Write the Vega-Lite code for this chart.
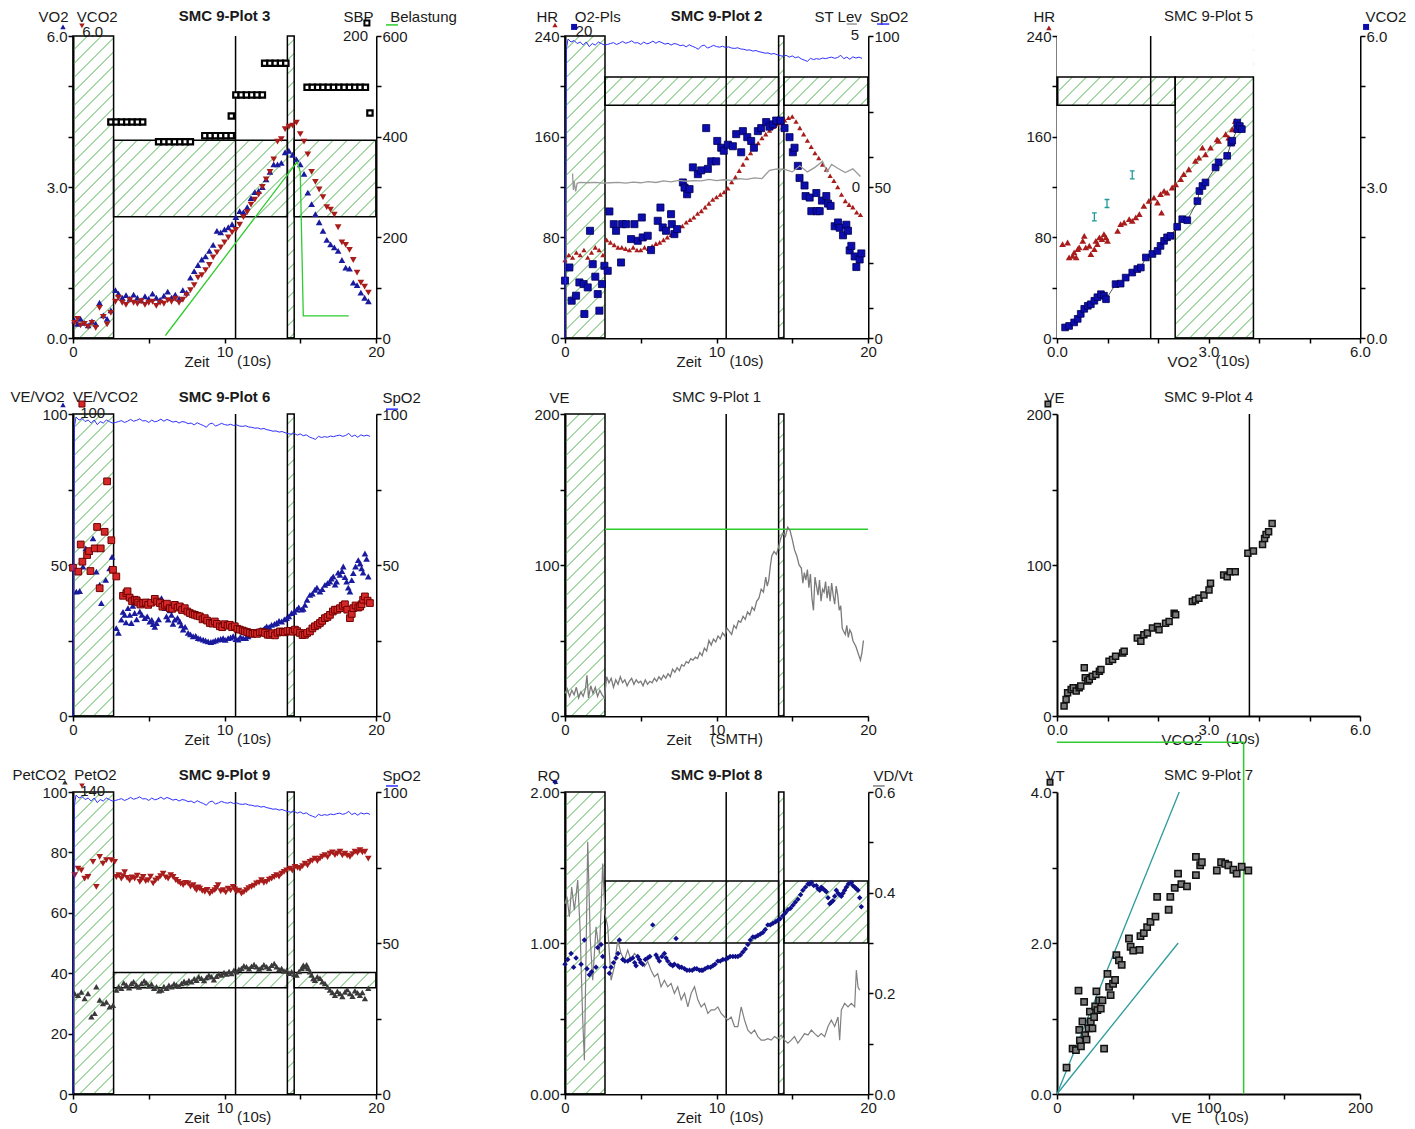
{
"$schema":"https://vega.github.io/schema/vega-lite/v6.json",
"background":"white",
"padding":{"left":10,"top":9,"right":0,"bottom":0},
"bounds":"flush",
"columns":3,
"spacing":{"row":76,"column":189},
"datasets":{
"spo2":[{"t":0,"s":0},{"t":0.1,"s":96},{"t":0.2,"s":99},{"t":0.4,"s":98},{"t":0.6,"s":98.5},{"t":0.8,"s":97.5},{"t":1.0,"s":98},{"t":1.2,"s":97},{"t":1.4,"s":98},{"t":1.6,"s":96.5},{"t":1.8,"s":97.5},{"t":2.0,"s":97},{"t":2.2,"s":98},{"t":2.4,"s":97.5},{"t":2.6,"s":97},{"t":2.8,"s":97.2},{"t":3.0,"s":97.5},{"t":3.2,"s":97.8},{"t":3.4,"s":97.2},{"t":3.6,"s":97.6},{"t":3.8,"s":98.2},{"t":4.0,"s":97.6},{"t":4.2,"s":97.9},{"t":4.4,"s":98.4},{"t":4.6,"s":97.7},{"t":4.8,"s":97.8},{"t":5.0,"s":97.2},{"t":5.2,"s":98.0},{"t":5.4,"s":97.4},{"t":5.6,"s":97.7},{"t":5.8,"s":98.3},{"t":6.0,"s":97.6},{"t":6.2,"s":98.2},{"t":6.4,"s":97.8},{"t":6.6,"s":97.3},{"t":6.8,"s":97.6},{"t":7.0,"s":97.0},{"t":7.2,"s":97.5},{"t":7.4,"s":97.3},{"t":7.6,"s":96.8},{"t":7.8,"s":97.0},{"t":8.0,"s":96.4},{"t":8.2,"s":97.1},{"t":8.4,"s":96.6},{"t":8.6,"s":96.2},{"t":8.8,"s":95.6},{"t":9.0,"s":96.7},{"t":9.2,"s":97.0},{"t":9.4,"s":96.0},{"t":9.6,"s":96.4},{"t":9.8,"s":96.9},{"t":10.0,"s":96.5},{"t":10.2,"s":96.3},{"t":10.4,"s":96.6},{"t":10.6,"s":96.2},{"t":10.8,"s":96.4},{"t":11.0,"s":96.0},{"t":11.2,"s":95.9},{"t":11.4,"s":96.1},{"t":11.6,"s":95.7},{"t":11.8,"s":95.6},{"t":12.0,"s":95.3},{"t":12.2,"s":95.4},{"t":12.4,"s":95.0},{"t":12.6,"s":95.2},{"t":12.8,"s":94.8},{"t":13.0,"s":94.6},{"t":13.2,"s":94.3},{"t":13.4,"s":94.4},{"t":13.6,"s":94.0},{"t":13.8,"s":94.2},{"t":14.0,"s":93.8},{"t":14.2,"s":93.5},{"t":14.4,"s":93.3},{"t":14.6,"s":93.6},{"t":14.8,"s":93.0},{"t":15.0,"s":93.4},{"t":15.2,"s":92.8},{"t":15.4,"s":93.1},{"t":15.6,"s":92.4},{"t":15.8,"s":92.0},{"t":16.0,"s":91.6},{"t":16.2,"s":92.6},{"t":16.4,"s":92.2},{"t":16.6,"s":92.5},{"t":16.8,"s":92.3},{"t":17.0,"s":92.7},{"t":17.2,"s":92.5},{"t":17.4,"s":92.8},{"t":17.6,"s":93.0},{"t":17.8,"s":92.6},{"t":18.0,"s":92.9},{"t":18.2,"s":93.6},{"t":18.4,"s":92.5},{"t":18.6,"s":93.0},{"t":18.8,"s":92.3},{"t":19.0,"s":93.1},{"t":19.2,"s":92.7},{"t":19.4,"s":93.0},{"t":19.6,"s":92.6}]
},
"concat":[
{"width":303,"height":302,"resolve":{"scale":{"y":"independent"}},
"layer":[
{"layer":[
{"data":{"values":[{}]},"mark":{"type":"point","shape":"M-151 -137L-137 -151M-151 -123L-123 -151M-151 -109L-109 -151M-151 -95L-95 -151M-151 -81L-81 -151M-151 -67L-67 -151M-151 -53L-53 -151M-151 -39L-39 -151M-151 -25L-25 -151M-151 -11L-11 -151M-151 3L3 -151M-151 17L17 -151M-151 31L31 -151M-151 45L45 -151M-151 59L59 -151M-151 73L73 -151M-151 87L87 -151M-151 101L101 -151M-151 115L115 -151M-151 129L129 -151M-151 143L143 -151M-145 151L151 -145M-131 151L151 -131M-117 151L151 -117M-103 151L151 -103M-89 151L151 -89M-75 151L151 -75M-61 151L151 -61M-47 151L151 -47M-33 151L151 -33M-19 151L151 -19M-5 151L151 -5M9 151L151 9M23 151L151 23M37 151L151 37M51 151L151 51M65 151L151 65M79 151L151 79M93 151L151 93M107 151L151 107M121 151L151 121M135 151L151 135M149 151L151 149","size":4,"filled":false,"color":"#4fb04f","strokeWidth":1,"opacity":1},
"encoding":{"x":{"datum":10,"type":"quantitative","scale":{"domain":[0,20],"nice":false,"zero":false},"axis":{"values":[0,5,10,15,20],"labelExpr":"datum.value % 10 == 0 ? datum.label : ''","title":"Zeit","titleAlign":"left","titleX":111,"titleY":28}},
"y":{"datum":3,"type":"quantitative","scale":{"domain":[0,6],"nice":false,"zero":false},"axis":{"values":[0,1,2,3,4,5,6],"format":".1f","labelExpr":"datum.value % 3 == 0 ? datum.label : ''","title":"VO2\u00a0\u00a0VCO2","titleAlign":"left","titleX":-35,"titleY":-15}}}},
{"data":{"values":[{"a":2.68,"b":14.15,"c":0,"d":2.41},{"a":2.68,"b":14.15,"c":3.93,"d":6},{"a":14.6,"b":20,"c":0,"d":2.41},{"a":14.6,"b":20,"c":3.93,"d":6}]},"mark":{"type":"rect","color":"white"},
"encoding":{"x":{"field":"a","type":"quantitative"},"x2":{"field":"b"},"y":{"field":"c","type":"quantitative"},"y2":{"field":"d"}}},
{"data":{"values":[{"a":0,"b":2.68,"c":0,"d":6},{"a":14.15,"b":14.6,"c":0,"d":6},{"a":2.68,"b":14.15,"c":2.41,"d":3.93},{"a":14.6,"b":20,"c":2.41,"d":3.93}]},"mark":{"type":"rect","filled":false,"color":"black","strokeWidth":1.5},
"encoding":{"x":{"field":"a","type":"quantitative"},"x2":{"field":"b"},"y":{"field":"c","type":"quantitative"},"y2":{"field":"d"}}},
{"data":{"values":[{}]},"mark":{"type":"rule","color":"black","strokeWidth":1.5},"encoding":{"x":{"datum":10.73,"type":"quantitative"}}},
{"data":{"values":[{"t":0.1,"v":0.35},{"t":0.3,"v":0.28},{"t":0.5,"v":0.38},{"t":0.75,"v":0.30},{"t":1.0,"v":0.25},{"t":1.25,"v":0.33},{"t":1.5,"v":0.28},{"t":1.75,"v":0.70},{"t":2.0,"v":0.45},{"t":2.25,"v":0.38},{"t":2.5,"v":0.55},{"t":2.8,"v":0.95},{"t":3.0,"v":0.88},{"t":3.25,"v":0.80},{"t":3.5,"v":0.85},{"t":3.75,"v":0.78},{"t":4.0,"v":0.86},{"t":4.25,"v":0.80},{"t":4.5,"v":0.75},{"t":4.75,"v":0.83},{"t":5.0,"v":0.78},{"t":5.25,"v":0.88},{"t":5.5,"v":0.80},{"t":5.75,"v":0.76},{"t":6.0,"v":0.84},{"t":6.25,"v":0.92},{"t":6.5,"v":0.80},{"t":6.75,"v":0.86},{"t":7.0,"v":0.78},{"t":7.25,"v":0.95},{"t":7.5,"v":0.90},{"t":7.75,"v":1.20},{"t":8.0,"v":1.33},{"t":8.25,"v":1.45},{"t":8.5,"v":1.56},{"t":8.75,"v":1.62},{"t":9.0,"v":1.73},{"t":9.25,"v":1.85},{"t":9.5,"v":2.13},{"t":9.75,"v":2.10},{"t":10.0,"v":2.16},{"t":10.25,"v":2.20},{"t":10.5,"v":2.26},{"t":10.75,"v":2.40},{"t":11.0,"v":2.52},{"t":11.25,"v":2.50},{"t":11.5,"v":2.60},{"t":11.75,"v":2.78},{"t":12.0,"v":2.90},{"t":12.25,"v":2.92},{"t":12.5,"v":3.00},{"t":12.75,"v":3.15},{"t":13.0,"v":3.30},{"t":13.25,"v":3.45},{"t":13.5,"v":3.45},{"t":13.75,"v":3.48},{"t":14.0,"v":3.69},{"t":14.25,"v":3.72},{"t":14.5,"v":3.64},{"t":14.75,"v":3.55},{"t":15.0,"v":3.45},{"t":15.25,"v":3.26},{"t":15.5,"v":2.89},{"t":15.75,"v":2.66},{"t":16.0,"v":2.46},{"t":16.25,"v":2.30},{"t":16.5,"v":2.13},{"t":16.75,"v":1.95},{"t":17.0,"v":1.86},{"t":17.25,"v":1.80},{"t":17.5,"v":1.73},{"t":17.75,"v":1.55},{"t":18.0,"v":1.40},{"t":18.25,"v":1.38},{"t":18.5,"v":1.10},{"t":18.75,"v":1.05},{"t":19.0,"v":0.90},{"t":19.25,"v":0.80},{"t":19.5,"v":0.73}]},
"mark":{"type":"point","shape":"triangle-up","filled":true,"color":"#1a1a9e","size":45,"opacity":1},"encoding":{"x":{"field":"t","type":"quantitative"},"y":{"field":"v","type":"quantitative"}}},
{"data":{"values":[{"t":0.1,"v":0.30},{"t":0.3,"v":0.38},{"t":0.5,"v":0.25},{"t":0.75,"v":0.28},{"t":1.0,"v":0.22},{"t":1.25,"v":0.30},{"t":1.5,"v":0.20},{"t":1.75,"v":0.60},{"t":2.0,"v":0.42},{"t":2.25,"v":0.27},{"t":2.5,"v":0.50},{"t":2.8,"v":0.72},{"t":3.0,"v":0.80},{"t":3.25,"v":0.70},{"t":3.5,"v":0.66},{"t":3.75,"v":0.75},{"t":4.0,"v":0.70},{"t":4.25,"v":0.68},{"t":4.5,"v":0.73},{"t":4.75,"v":0.66},{"t":5.0,"v":0.70},{"t":5.25,"v":0.72},{"t":5.5,"v":0.64},{"t":5.75,"v":0.70},{"t":6.0,"v":0.68},{"t":6.25,"v":0.75},{"t":6.5,"v":0.72},{"t":6.75,"v":0.78},{"t":7.0,"v":0.70},{"t":7.25,"v":0.76},{"t":7.5,"v":0.85},{"t":7.75,"v":0.95},{"t":8.0,"v":1.05},{"t":8.25,"v":1.20},{"t":8.5,"v":1.25},{"t":8.75,"v":1.35},{"t":9.0,"v":1.45},{"t":9.25,"v":1.60},{"t":9.5,"v":1.70},{"t":9.75,"v":1.80},{"t":10.0,"v":1.90},{"t":10.25,"v":2.00},{"t":10.5,"v":2.10},{"t":10.75,"v":2.15},{"t":11.0,"v":2.25},{"t":11.25,"v":2.40},{"t":11.5,"v":2.50},{"t":11.75,"v":2.65},{"t":12.0,"v":2.75},{"t":12.25,"v":2.85},{"t":12.5,"v":3.00},{"t":12.75,"v":3.15},{"t":13.0,"v":3.30},{"t":13.25,"v":3.55},{"t":13.5,"v":3.90},{"t":13.75,"v":3.95},{"t":14.0,"v":4.15},{"t":14.25,"v":4.20},{"t":14.5,"v":4.22},{"t":14.75,"v":4.28},{"t":15.0,"v":4.05},{"t":15.25,"v":3.90},{"t":15.5,"v":3.65},{"t":15.75,"v":3.30},{"t":16.0,"v":3.10},{"t":16.25,"v":2.95},{"t":16.5,"v":2.80},{"t":16.75,"v":2.60},{"t":17.0,"v":2.55},{"t":17.25,"v":2.45},{"t":17.5,"v":2.20},{"t":17.75,"v":1.90},{"t":18.0,"v":1.85},{"t":18.25,"v":1.75},{"t":18.5,"v":1.55},{"t":18.75,"v":1.30},{"t":19.0,"v":1.10},{"t":19.25,"v":1.02},{"t":19.5,"v":0.90}]},
"mark":{"type":"point","shape":"triangle-down","filled":true,"color":"#a81c1c","size":45,"opacity":1},"encoding":{"x":{"field":"t","type":"quantitative"},"y":{"field":"v","type":"quantitative"}}},
{"data":{"values":[{}]},"mark":{"type":"text","text":"SMC 9-Plot 3","fontWeight":"bold","baseline":"alphabetic","dy":-15},"encoding":{"x":{"datum":10,"type":"quantitative"},"y":{"datum":6,"type":"quantitative"}}},
{"data":{"values":[{}]},"mark":{"type":"text","text":"6.0","baseline":"alphabetic","dy":1},"encoding":{"x":{"datum":1.3,"type":"quantitative"},"y":{"datum":6,"type":"quantitative"}}},
{"data":{"values":[{}]},"mark":{"type":"text","text":"(10s)","align":"left","baseline":"alphabetic","dy":28},"encoding":{"x":{"datum":10.83,"type":"quantitative"},"y":{"datum":0,"type":"quantitative"}}},
{"data":{"values":[{}]},"mark":{"type":"point","shape":"triangle-up","filled":true,"color":"#1a1a9e","size":30,"opacity":1},"encoding":{"x":{"datum":-0.66,"type":"quantitative"},"y":{"datum":6.18,"type":"quantitative"}}},
{"data":{"values":[{}]},"mark":{"type":"point","shape":"triangle-down","filled":true,"color":"#a81c1c","size":30,"opacity":1},"encoding":{"x":{"datum":0.59,"type":"quantitative"},"y":{"datum":6.2,"type":"quantitative"}}},
{"data":{"values":[{}]},"mark":{"type":"point","shape":"square","filled":true,"color":"white","stroke":"black","strokeWidth":2,"size":25,"opacity":1},"encoding":{"x":{"datum":19.4,"type":"quantitative"},"y":{"datum":6.26,"type":"quantitative"}}},
{"data":{"values":[{}]},"mark":{"type":"rule","color":"#2ecc2e","strokeWidth":1.5},"encoding":{"x":{"datum":20.66,"type":"quantitative"},"x2":{"datum":21.45},"y":{"datum":6.22,"type":"quantitative"}}}
]},
{"layer":[
{"data":{"values":[{"t":6.1,"w":5},{"t":14.8,"w":350},{"t":15.0,"w":330},{"t":15.2,"w":44},{"t":18.2,"w":44}]},"mark":{"type":"line","color":"#2ecc2e","strokeWidth":1.3},
"encoding":{"x":{"field":"t","type":"quantitative"},"y":{"field":"w","type":"quantitative","scale":{"domain":[0,600],"nice":false,"zero":false},"axis":{"orient":"right","values":[0,100,200,300,400,500,600],"labelExpr":"datum.value % 200 == 0 ? datum.label : ''","title":"SBP\u00a0\u00a0\u00a0\u00a0Belastung","titleAlign":"left","titleX":-33,"titleY":-15}}}},
{"data":{"values":[{}]},"mark":{"type":"text","text":"200","align":"right","baseline":"alphabetic","dx":-8,"dy":5},"encoding":{"x":{"datum":20,"type":"quantitative"},"y":{"datum":600,"type":"quantitative"}}}
]},
{"layer":[
{"data":{"values":[{"t":2.5,"p":143},{"t":2.85,"p":143},{"t":3.2,"p":143},{"t":3.55,"p":143},{"t":3.9,"p":143},{"t":4.25,"p":143},{"t":4.6,"p":143},{"t":5.65,"p":130},{"t":6.0,"p":130},{"t":6.35,"p":130},{"t":6.7,"p":130},{"t":7.05,"p":130},{"t":7.4,"p":130},{"t":7.75,"p":130},{"t":8.7,"p":134},{"t":9.05,"p":134},{"t":9.4,"p":134},{"t":9.75,"p":134},{"t":10.1,"p":134},{"t":10.45,"p":134},{"t":10.45,"p":147},{"t":10.75,"p":161},{"t":11.1,"p":161},{"t":11.45,"p":161},{"t":11.8,"p":161},{"t":12.15,"p":161},{"t":12.5,"p":161},{"t":12.65,"p":182},{"t":13.0,"p":182},{"t":13.35,"p":182},{"t":13.7,"p":182},{"t":14.05,"p":182},{"t":15.45,"p":166},{"t":15.8,"p":166},{"t":16.15,"p":166},{"t":16.5,"p":166},{"t":16.85,"p":166},{"t":17.2,"p":166},{"t":17.55,"p":166},{"t":17.9,"p":166},{"t":18.25,"p":166},{"t":18.6,"p":166},{"t":18.95,"p":166},{"t":19.3,"p":166},{"t":19.6,"p":149}]},
"mark":{"type":"point","shape":"square","size":28,"filled":true,"color":"white","stroke":"black","strokeWidth":2.2,"opacity":1},
"encoding":{"x":{"field":"t","type":"quantitative"},"y":{"field":"p","type":"quantitative","scale":{"domain":[0,200],"nice":false,"zero":false},"axis":null}}}
]}
]},

{"width":303,"height":302,"resolve":{"scale":{"y":"independent"}},
"layer":[
{"layer":[
{"data":{"values":[{}]},"mark":{"type":"point","shape":"M-151 -137L-137 -151M-151 -123L-123 -151M-151 -109L-109 -151M-151 -95L-95 -151M-151 -81L-81 -151M-151 -67L-67 -151M-151 -53L-53 -151M-151 -39L-39 -151M-151 -25L-25 -151M-151 -11L-11 -151M-151 3L3 -151M-151 17L17 -151M-151 31L31 -151M-151 45L45 -151M-151 59L59 -151M-151 73L73 -151M-151 87L87 -151M-151 101L101 -151M-151 115L115 -151M-151 129L129 -151M-151 143L143 -151M-145 151L151 -145M-131 151L151 -131M-117 151L151 -117M-103 151L151 -103M-89 151L151 -89M-75 151L151 -75M-61 151L151 -61M-47 151L151 -47M-33 151L151 -33M-19 151L151 -19M-5 151L151 -5M9 151L151 9M23 151L151 23M37 151L151 37M51 151L151 51M65 151L151 65M79 151L151 79M93 151L151 93M107 151L151 107M121 151L151 121M135 151L151 135M149 151L151 149","size":4,"filled":false,"color":"#4fb04f","strokeWidth":1,"opacity":1},
"encoding":{"x":{"datum":10,"type":"quantitative","scale":{"domain":[0,20],"nice":false,"zero":false},"axis":{"values":[0,5,10,15,20],"labelExpr":"datum.value % 10 == 0 ? datum.label : ''","title":"Zeit","titleAlign":"left","titleX":111,"titleY":28}},
"y":{"datum":120,"type":"quantitative","scale":{"domain":[0,240],"nice":false,"zero":false},"axis":{"values":[0,40,80,120,160,200,240],"labelExpr":"datum.value % 80 == 0 ? datum.label : ''","title":"HR\u00a0\u00a0\u00a0\u00a0O2-Pls","titleAlign":"left","titleX":-29,"titleY":-15}}}},
{"data":{"values":[{"a":2.64,"b":14.1,"c":0,"d":184.9},{"a":2.64,"b":14.1,"c":207.4,"d":240},{"a":14.45,"b":20,"c":0,"d":184.9},{"a":14.45,"b":20,"c":207.4,"d":240}]},"mark":{"type":"rect","color":"white"},
"encoding":{"x":{"field":"a","type":"quantitative"},"x2":{"field":"b"},"y":{"field":"c","type":"quantitative"},"y2":{"field":"d"}}},
{"data":{"values":[{"a":0,"b":2.64,"c":0,"d":240},{"a":14.1,"b":14.45,"c":0,"d":240},{"a":2.64,"b":14.1,"c":184.9,"d":207.4},{"a":14.45,"b":20,"c":184.9,"d":207.4}]},"mark":{"type":"rect","filled":false,"color":"black","strokeWidth":1.5},
"encoding":{"x":{"field":"a","type":"quantitative"},"x2":{"field":"b"},"y":{"field":"c","type":"quantitative"},"y2":{"field":"d"}}},
{"data":{"values":[{}]},"mark":{"type":"rule","color":"black","strokeWidth":1.5},"encoding":{"x":{"datum":10.64,"type":"quantitative"}}},
{"data":{"values":[{"t":0.0,"h":62},{"t":0.25,"h":66},{"t":0.5,"h":64},{"t":0.75,"h":68},{"t":1.0,"h":66},{"t":1.25,"h":70},{"t":1.5,"h":64},{"t":1.75,"h":68},{"t":2.0,"h":72},{"t":2.25,"h":70},{"t":2.5,"h":66},{"t":2.75,"h":78},{"t":3.0,"h":76},{"t":3.25,"h":74},{"t":3.5,"h":72},{"t":3.75,"h":72},{"t":4.0,"h":71},{"t":4.25,"h":70},{"t":4.5,"h":72},{"t":4.75,"h":70},{"t":5.0,"h":70},{"t":5.25,"h":72},{"t":5.5,"h":71},{"t":5.75,"h":73},{"t":6.0,"h":75},{"t":6.25,"h":76},{"t":6.5,"h":78},{"t":6.75,"h":80},{"t":7.0,"h":82},{"t":7.25,"h":84},{"t":7.5,"h":86},{"t":7.75,"h":89},{"t":8.0,"h":92},{"t":8.25,"h":94},{"t":8.5,"h":96},{"t":8.75,"h":99},{"t":9.0,"h":101},{"t":9.25,"h":104},{"t":9.5,"h":107},{"t":9.75,"h":110},{"t":10.0,"h":112},{"t":10.25,"h":114},{"t":10.5,"h":116},{"t":10.75,"h":119},{"t":11.0,"h":124},{"t":11.25,"h":128},{"t":11.5,"h":133},{"t":11.75,"h":138},{"t":12.0,"h":143},{"t":12.25,"h":147},{"t":12.5,"h":151},{"t":12.75,"h":155},{"t":13.0,"h":159},{"t":13.25,"h":162},{"t":13.5,"h":165},{"t":13.75,"h":168},{"t":14.0,"h":170},{"t":14.25,"h":171},{"t":14.5,"h":173},{"t":14.75,"h":175},{"t":15.0,"h":176},{"t":15.25,"h":172},{"t":15.5,"h":167},{"t":15.75,"h":162},{"t":16.0,"h":157},{"t":16.25,"h":152},{"t":16.5,"h":147},{"t":16.75,"h":143},{"t":17.0,"h":138},{"t":17.25,"h":134},{"t":17.5,"h":129},{"t":17.75,"h":125},{"t":18.0,"h":120},{"t":18.25,"h":114},{"t":18.5,"h":109},{"t":18.75,"h":106},{"t":19.0,"h":104},{"t":19.25,"h":100},{"t":19.5,"h":98}]},
"mark":{"type":"point","shape":"triangle-up","filled":true,"color":"#a81c1c","size":28,"opacity":1},"encoding":{"x":{"field":"t","type":"quantitative"},"y":{"field":"h","type":"quantitative"}}},
{"data":{"values":[{}]},"mark":{"type":"text","text":"SMC 9-Plot 2","fontWeight":"bold","baseline":"alphabetic","dy":-15},"encoding":{"x":{"datum":10,"type":"quantitative"},"y":{"datum":240,"type":"quantitative"}}},
{"data":{"values":[{}]},"mark":{"type":"text","text":"20","baseline":"alphabetic","dy":0},"encoding":{"x":{"datum":1.25,"type":"quantitative"},"y":{"datum":240,"type":"quantitative"}}},
{"data":{"values":[{}]},"mark":{"type":"text","text":"5","align":"right","baseline":"alphabetic","dx":-9,"dy":4},"encoding":{"x":{"datum":20,"type":"quantitative"},"y":{"datum":240,"type":"quantitative"}}},
{"data":{"values":[{}]},"mark":{"type":"text","text":"0","align":"right","baseline":"middle","dx":-8},"encoding":{"x":{"datum":20,"type":"quantitative"},"y":{"datum":120,"type":"quantitative"}}},
{"data":{"values":[{}]},"mark":{"type":"text","text":"(10s)","align":"left","baseline":"alphabetic","dy":28},"encoding":{"x":{"datum":10.85,"type":"quantitative"},"y":{"datum":0,"type":"quantitative"}}},
{"data":{"values":[{}]},"mark":{"type":"point","shape":"triangle-up","filled":true,"color":"#a81c1c","size":28,"opacity":1},"encoding":{"x":{"datum":-0.66,"type":"quantitative"},"y":{"datum":248.7,"type":"quantitative"}}},
{"data":{"values":[{}]},"mark":{"type":"point","shape":"square","filled":true,"color":"#0d0dae","size":36,"opacity":1},"encoding":{"x":{"datum":0.6,"type":"quantitative"},"y":{"datum":247.2,"type":"quantitative"}}},
{"data":{"values":[{}]},"mark":{"type":"rule","color":"#999999","strokeWidth":1.5},"encoding":{"x":{"datum":18.6,"type":"quantitative"},"x2":{"datum":19.27},"y":{"datum":249.5,"type":"quantitative"}}},
{"data":{"values":[{}]},"mark":{"type":"rule","color":"#2f2fff","strokeWidth":1.5},"encoding":{"x":{"datum":20.6,"type":"quantitative"},"x2":{"datum":21.4},"y":{"datum":249.5,"type":"quantitative"}}}
]},
{"layer":[
{"data":{"values":[{"t":0.0,"o":3.8},{"t":0.29,"o":4.67},{"t":0.44,"o":2.47},{"t":0.73,"o":2.8},{"t":0.95,"o":3.68},{"t":1.23,"o":3.57},{"t":1.28,"o":1.59},{"t":1.5,"o":3.35},{"t":1.65,"o":7.1},{"t":1.83,"o":4.89},{"t":2.0,"o":4.06},{"t":2.16,"o":2.91},{"t":2.27,"o":1.81},{"t":2.44,"o":3.57},{"t":2.6,"o":4.78},{"t":2.82,"o":4.45},{"t":2.93,"o":8.38},{"t":3.22,"o":7.54},{"t":3.37,"o":7.1},{"t":3.7,"o":5.0},{"t":3.77,"o":7.54},{"t":4.03,"o":7.54},{"t":4.36,"o":6.55},{"t":4.58,"o":7.54},{"t":4.8,"o":6.44},{"t":5.07,"o":7.98},{"t":5.13,"o":6.66},{"t":5.46,"o":6.77},{"t":5.68,"o":5.82},{"t":6.12,"o":7.76},{"t":6.3,"o":8.64},{"t":6.45,"o":7.32},{"t":6.67,"o":7.1},{"t":7.0,"o":8.2},{"t":7.05,"o":7.54},{"t":7.22,"o":6.88},{"t":7.4,"o":7.21},{"t":7.78,"o":10.3},{"t":7.89,"o":9.96},{"t":8.06,"o":9.52},{"t":8.22,"o":9.86},{"t":8.44,"o":11.3},{"t":8.77,"o":10.85},{"t":8.99,"o":11.1},{"t":9.32,"o":13.9},{"t":9.43,"o":11.2},{"t":9.65,"o":11.7},{"t":9.98,"o":11.7},{"t":10.05,"o":13.05},{"t":10.31,"o":12.6},{"t":10.48,"o":12.4},{"t":10.75,"o":12.8},{"t":11.08,"o":12.7},{"t":11.3,"o":13.5},{"t":11.63,"o":12.3},{"t":11.74,"o":13.7},{"t":12.03,"o":13.3},{"t":12.29,"o":13.05},{"t":12.47,"o":12.6},{"t":12.73,"o":13.7},{"t":12.95,"o":13.9},{"t":13.28,"o":14.3},{"t":13.5,"o":14.0},{"t":13.72,"o":14.15},{"t":13.94,"o":14.4},{"t":14.23,"o":14.4},{"t":14.49,"o":13.9},{"t":14.82,"o":13.3},{"t":15.04,"o":12.3},{"t":15.15,"o":12.6},{"t":15.37,"o":11.4},{"t":15.48,"o":10.6},{"t":15.81,"o":10.1},{"t":15.88,"o":9.4},{"t":16.15,"o":9.3},{"t":16.26,"o":8.4},{"t":16.59,"o":9.6},{"t":16.62,"o":8.4},{"t":16.81,"o":8.4},{"t":16.96,"o":9.1},{"t":17.25,"o":9.4},{"t":17.36,"o":8.9},{"t":17.53,"o":8.75},{"t":17.8,"o":7.4},{"t":18.02,"o":7.65},{"t":18.13,"o":7.3},{"t":18.35,"o":6.8},{"t":18.57,"o":7.5},{"t":18.68,"o":7.1},{"t":18.79,"o":5.8},{"t":18.9,"o":6.1},{"t":19.12,"o":5.4},{"t":19.23,"o":4.7},{"t":19.45,"o":5.2},{"t":19.56,"o":5.6}]},
"mark":{"type":"point","shape":"square","filled":true,"color":"#0d0dae","stroke":"#000050","strokeWidth":0.8,"size":50,"opacity":1},
"encoding":{"x":{"field":"t","type":"quantitative"},"y":{"field":"o","type":"quantitative","scale":{"domain":[0,20],"nice":false,"zero":false},"axis":null}}}
]},
{"layer":[
{"data":{"name":"spo2"},"mark":{"type":"line","color":"#2f2fff","strokeWidth":1},
"encoding":{"x":{"field":"t","type":"quantitative"},"y":{"field":"s","type":"quantitative","scale":{"domain":[0,100],"nice":false,"zero":false},"axis":{"orient":"right","values":[0,10,25,50,60,75,100],"labelExpr":"datum.value % 50 == 0 ? datum.label : ''","title":"ST Lev\u00a0\u00a0SpO2","titleAlign":"left","titleX":-54,"titleY":-15}}}}
]},
{"layer":[
{"data":{"values":[{"t":0.5,"s":0.45},{"t":0.55,"s":-0.1},{"t":0.6,"s":0.2},{"t":0.7,"s":-0.15},{"t":0.8,"s":0.12},{"t":1.0,"s":0.15},{"t":1.5,"s":0.14},{"t":2.0,"s":0.15},{"t":2.5,"s":0.13},{"t":3.0,"s":0.14},{"t":3.5,"s":0.15},{"t":4.0,"s":0.13},{"t":4.5,"s":0.16},{"t":5.0,"s":0.14},{"t":5.5,"s":0.18},{"t":6.0,"s":0.15},{"t":6.5,"s":0.2},{"t":7.0,"s":0.17},{"t":7.5,"s":0.22},{"t":8.0,"s":0.19},{"t":8.5,"s":0.21},{"t":9.0,"s":0.2},{"t":9.5,"s":0.25},{"t":10.0,"s":0.21},{"t":10.5,"s":0.24},{"t":11.0,"s":0.22},{"t":11.5,"s":0.28},{"t":12.0,"s":0.25},{"t":12.5,"s":0.3},{"t":13.0,"s":0.28},{"t":13.5,"s":0.55},{"t":14.0,"s":0.6},{"t":14.5,"s":0.58},{"t":15.0,"s":0.5},{"t":15.5,"s":0.7},{"t":16.0,"s":0.5},{"t":16.5,"s":0.65},{"t":17.0,"s":0.85},{"t":17.3,"s":0.5},{"t":17.6,"s":0.75},{"t":18.0,"s":0.62},{"t":18.5,"s":0.48},{"t":19.0,"s":0.6},{"t":19.5,"s":0.35}]},
"mark":{"type":"line","color":"#999999","strokeWidth":1.3},
"encoding":{"x":{"field":"t","type":"quantitative"},"y":{"field":"s","type":"quantitative","scale":{"domain":[-5,5],"nice":false,"zero":false},"axis":null}}}
]}
]},

{"width":303,"height":302,"resolve":{"scale":{"y":"independent"}},
"layer":[
{"layer":[
{"data":{"values":[{}]},"mark":{"type":"point","shape":"M-151 -137L-137 -151M-151 -123L-123 -151M-151 -109L-109 -151M-151 -95L-95 -151M-151 -81L-81 -151M-151 -67L-67 -151M-151 -53L-53 -151M-151 -39L-39 -151M-151 -25L-25 -151M-151 -11L-11 -151M-151 3L3 -151M-151 17L17 -151M-151 31L31 -151M-151 45L45 -151M-151 59L59 -151M-151 73L73 -151M-151 87L87 -151M-151 101L101 -151M-151 115L115 -151M-151 129L129 -151M-151 143L143 -151M-145 151L151 -145M-131 151L151 -131M-117 151L151 -117M-103 151L151 -103M-89 151L151 -89M-75 151L151 -75M-61 151L151 -61M-47 151L151 -47M-33 151L151 -33M-19 151L151 -19M-5 151L151 -5M9 151L151 9M23 151L151 23M37 151L151 37M51 151L151 51M65 151L151 65M79 151L151 79M93 151L151 93M107 151L151 107M121 151L151 121M135 151L151 135M149 151L151 149","size":4,"filled":false,"color":"#4fb04f","strokeWidth":1,"opacity":1},
"encoding":{"x":{"datum":3,"type":"quantitative","scale":{"domain":[0,6],"nice":false,"zero":false},"axis":{"values":[0,1,2,3,4,5,6],"format":".1f","labelExpr":"datum.value % 3 == 0 ? datum.label : ''","title":"VO2","titleAlign":"left","titleX":110,"titleY":28}},
"y":{"datum":120,"type":"quantitative","scale":{"domain":[0,240],"nice":false,"zero":false},"axis":{"values":[0,40,80,120,160,200,240],"labelExpr":"datum.value % 80 == 0 ? datum.label : ''","title":"HR","titleAlign":"left","titleX":-24,"titleY":-15}}}},
{"data":{"values":[{"a":0,"b":2.34,"c":0,"d":184.9},{"a":0,"b":3.89,"c":207.4,"d":240},{"a":3.89,"b":6,"c":0,"d":240}]},"mark":{"type":"rect","color":"white"},
"encoding":{"x":{"field":"a","type":"quantitative"},"x2":{"field":"b"},"y":{"field":"c","type":"quantitative"},"y2":{"field":"d"}}},
{"data":{"values":[{"a":0,"b":2.34,"c":184.9,"d":207.4},{"a":2.34,"b":3.89,"c":0,"d":207.4}]},"mark":{"type":"rect","filled":false,"color":"black","strokeWidth":1.5},
"encoding":{"x":{"field":"a","type":"quantitative"},"x2":{"field":"b"},"y":{"field":"c","type":"quantitative"},"y2":{"field":"d"}}},
{"data":{"values":[{}]},"mark":{"type":"rule","color":"black","strokeWidth":1.5},"encoding":{"x":{"datum":1.855,"type":"quantitative"}}},
{"data":{"values":[{"x":0.11,"y":74.6},{"x":0.21,"y":75.9},{"x":0.24,"y":64.0},{"x":0.31,"y":65.3},{"x":0.34,"y":68.0},{"x":0.38,"y":64.0},{"x":0.41,"y":70.6},{"x":0.44,"y":72.0},{"x":0.51,"y":77.2},{"x":0.54,"y":81.2},{"x":0.57,"y":72.0},{"x":0.64,"y":73.3},{"x":0.67,"y":66.7},{"x":0.74,"y":70.6},{"x":0.77,"y":77.2},{"x":0.80,"y":74.6},{"x":0.84,"y":79.9},{"x":0.89,"y":78.6},{"x":0.93,"y":82.5},{"x":0.97,"y":79.9},{"x":1.00,"y":77.2},{"x":1.20,"y":85.2},{"x":1.26,"y":90.5},{"x":1.33,"y":91.8},{"x":1.43,"y":94.4},{"x":1.49,"y":93.1},{"x":1.56,"y":95.8},{"x":1.63,"y":98.4},{"x":1.72,"y":105.0},{"x":1.82,"y":109.0},{"x":1.92,"y":111.6},{"x":1.99,"y":107.7},{"x":2.05,"y":114.3},{"x":2.07,"y":99.7},{"x":2.12,"y":116.9},{"x":2.18,"y":115.6},{"x":2.28,"y":119.6},{"x":2.35,"y":122.2},{"x":2.45,"y":126.2},{"x":2.51,"y":130.2},{"x":2.61,"y":134.1},{"x":2.74,"y":140.7},{"x":2.81,"y":143.4},{"x":2.88,"y":151.3},{"x":2.94,"y":146.0},{"x":3.04,"y":151.3},{"x":3.17,"y":157.9},{"x":3.20,"y":156.6},{"x":3.34,"y":161.9},{"x":3.40,"y":159.3},{"x":3.47,"y":165.9},{"x":3.53,"y":172.5},{"x":3.60,"y":169.8},{"x":3.63,"y":167.2}]},
"mark":{"type":"point","shape":"triangle-up","filled":true,"color":"#a81c1c","size":45,"opacity":1},"encoding":{"x":{"field":"x","type":"quantitative"},"y":{"field":"y","type":"quantitative"}}},
{"data":{"values":[{"x":0.74,"y":96.3},{"x":0.99,"y":106.9},{"x":1.49,"y":129.6}]},"mark":{"type":"point","shape":"M-0.6 -1L0.6 -1M0 -1L0 1M-0.6 1L0.6 1","size":64,"filled":false,"color":"#1f9a9a","strokeWidth":1.3,"opacity":1},"encoding":{"x":{"field":"x","type":"quantitative"},"y":{"field":"y","type":"quantitative"}}},
{"data":{"values":[{}]},"mark":{"type":"text","text":"SMC 9-Plot 5","baseline":"alphabetic","dy":-15},"encoding":{"x":{"datum":3,"type":"quantitative"},"y":{"datum":240,"type":"quantitative"}}},
{"data":{"values":[{}]},"mark":{"type":"text","text":"(10s)","align":"left","baseline":"alphabetic","dy":28},"encoding":{"x":{"datum":3.14,"type":"quantitative"},"y":{"datum":0,"type":"quantitative"}}},
{"data":{"values":[{}]},"mark":{"type":"point","shape":"triangle-up","filled":true,"color":"#a81c1c","size":30,"opacity":1},"encoding":{"x":{"datum":-0.16,"type":"quantitative"},"y":{"datum":246.4,"type":"quantitative"}}},
{"data":{"values":[{}]},"mark":{"type":"point","shape":"square","filled":true,"color":"#0d0dae","size":36,"opacity":1},"encoding":{"x":{"datum":6.12,"type":"quantitative"},"y":{"datum":247.2,"type":"quantitative"}}}
]},
{"data":{"values":[{"x":0.16,"y":0.21},{"x":0.24,"y":0.24},{"x":0.34,"y":0.31},{"x":0.41,"y":0.38},{"x":0.47,"y":0.48},{"x":0.54,"y":0.58},{"x":0.61,"y":0.64},{"x":0.67,"y":0.67},{"x":0.74,"y":0.74},{"x":0.80,"y":0.81},{"x":0.87,"y":0.87},{"x":0.93,"y":0.84},{"x":0.97,"y":0.77},{"x":1.16,"y":1.07},{"x":1.26,"y":1.08},{"x":1.36,"y":1.20},{"x":1.49,"y":1.30},{"x":1.59,"y":1.37},{"x":1.66,"y":1.40},{"x":1.76,"y":1.60},{"x":1.89,"y":1.67},{"x":1.99,"y":1.73},{"x":2.05,"y":1.83},{"x":2.12,"y":1.93},{"x":2.18,"y":2.00},{"x":2.25,"y":2.03},{"x":2.38,"y":2.21},{"x":2.48,"y":2.36},{"x":2.58,"y":2.34},{"x":2.78,"y":2.72},{"x":2.82,"y":2.92},{"x":2.88,"y":3.02},{"x":2.94,"y":3.09},{"x":3.14,"y":3.39},{"x":3.20,"y":3.49},{"x":3.37,"y":3.62},{"x":3.45,"y":3.88},{"x":3.47,"y":3.92},{"x":3.57,"y":4.15},{"x":3.57,"y":4.28},{"x":3.62,"y":4.21},{"x":3.66,"y":4.15}]},
"layer":[
{"mark":{"type":"line","color":"#555555","strokeWidth":1},"encoding":{"x":{"field":"x","type":"quantitative"},"y":{"field":"y","type":"quantitative","scale":{"domain":[0,6],"nice":false,"zero":false},"axis":{"orient":"right","values":[0,1,2,3,4,5,6],"format":".1f","labelExpr":"datum.value % 3 == 0 ? datum.label : ''","title":"VCO2","titleAlign":"left","titleX":5,"titleY":-15}}}},
{"mark":{"type":"point","shape":"square","filled":true,"color":"#0d0dae","stroke":"#000050","strokeWidth":0.8,"size":45,"opacity":1},"encoding":{"x":{"field":"x","type":"quantitative"},"y":{"field":"y","type":"quantitative"}}}
]}
]},

{"width":303,"height":302,"resolve":{"scale":{"y":"independent"}},
"layer":[
{"layer":[
{"data":{"values":[{}]},"mark":{"type":"point","shape":"M-151 -137L-137 -151M-151 -123L-123 -151M-151 -109L-109 -151M-151 -95L-95 -151M-151 -81L-81 -151M-151 -67L-67 -151M-151 -53L-53 -151M-151 -39L-39 -151M-151 -25L-25 -151M-151 -11L-11 -151M-151 3L3 -151M-151 17L17 -151M-151 31L31 -151M-151 45L45 -151M-151 59L59 -151M-151 73L73 -151M-151 87L87 -151M-151 101L101 -151M-151 115L115 -151M-151 129L129 -151M-151 143L143 -151M-145 151L151 -145M-131 151L151 -131M-117 151L151 -117M-103 151L151 -103M-89 151L151 -89M-75 151L151 -75M-61 151L151 -61M-47 151L151 -47M-33 151L151 -33M-19 151L151 -19M-5 151L151 -5M9 151L151 9M23 151L151 23M37 151L151 37M51 151L151 51M65 151L151 65M79 151L151 79M93 151L151 93M107 151L151 107M121 151L151 121M135 151L151 135M149 151L151 149","size":4,"filled":false,"color":"#4fb04f","strokeWidth":1,"opacity":1},
"encoding":{"x":{"datum":10,"type":"quantitative","scale":{"domain":[0,20],"nice":false,"zero":false},"axis":{"values":[0,5,10,15,20],"labelExpr":"datum.value % 10 == 0 ? datum.label : ''","title":"Zeit","titleAlign":"left","titleX":111,"titleY":28}},
"y":{"datum":50,"type":"quantitative","scale":{"domain":[0,100],"nice":false,"zero":false},"axis":{"values":[0,25,50,75,100],"labelExpr":"datum.value % 50 == 0 ? datum.label : ''","title":"VE/VO2\u00a0\u00a0VE/VCO2","titleAlign":"left","titleX":-63,"titleY":-13}}}},
{"data":{"values":[{"a":2.68,"b":14.15,"c":0,"d":100},{"a":14.6,"b":20,"c":0,"d":100}]},"mark":{"type":"rect","color":"white"},
"encoding":{"x":{"field":"a","type":"quantitative"},"x2":{"field":"b"},"y":{"field":"c","type":"quantitative"},"y2":{"field":"d"}}},
{"data":{"values":[{"a":0,"b":2.68,"c":0,"d":100},{"a":14.15,"b":14.6,"c":0,"d":100}]},"mark":{"type":"rect","filled":false,"color":"black","strokeWidth":1.5},
"encoding":{"x":{"field":"a","type":"quantitative"},"x2":{"field":"b"},"y":{"field":"c","type":"quantitative"},"y2":{"field":"d"}}},
{"data":{"values":[{}]},"mark":{"type":"rule","color":"black","strokeWidth":1.5},"encoding":{"x":{"datum":10.73,"type":"quantitative"}}},
{"data":{"values":[{"t":0.22,"v":41.2},{"t":0.44,"v":41.4},{"t":0.66,"v":49.5},{"t":0.84,"v":55.5},{"t":1.10,"v":54.4},{"t":1.32,"v":58.8},{"t":1.54,"v":47.8},{"t":1.76,"v":43.4},{"t":1.87,"v":37.4},{"t":2.16,"v":45.1},{"t":2.42,"v":48.9},{"t":2.58,"v":52.7},{"t":2.86,"v":29.1},{"t":3.0,"v":27.5},{"t":3.19,"v":31.9},{"t":3.3,"v":34.5},{"t":3.41,"v":33.5},{"t":3.5,"v":31},{"t":3.63,"v":35.7},{"t":3.75,"v":33.5},{"t":3.85,"v":30.8},{"t":3.95,"v":36.5},{"t":4.07,"v":34.1},{"t":4.2,"v":32},{"t":4.41,"v":34.6},{"t":4.55,"v":33.5},{"t":4.74,"v":32.4},{"t":4.9,"v":33},{"t":5.07,"v":31.3},{"t":5.2,"v":31.8},{"t":5.29,"v":30.4},{"t":5.4,"v":29.5},{"t":5.51,"v":30.8},{"t":5.65,"v":32},{"t":5.84,"v":39.0},{"t":5.95,"v":37},{"t":6.06,"v":35.7},{"t":6.17,"v":33},{"t":6.28,"v":31.9},{"t":6.4,"v":35},{"t":6.50,"v":33.5},{"t":6.6,"v":30.5},{"t":6.72,"v":31.9},{"t":6.9,"v":32.5},{"t":7.05,"v":31.3},{"t":7.15,"v":30},{"t":7.27,"v":28.6},{"t":7.4,"v":29.5},{"t":7.60,"v":27.5},{"t":7.75,"v":27},{"t":7.93,"v":26.4},{"t":8.1,"v":26.5},{"t":8.26,"v":25.8},{"t":8.4,"v":25.6},{"t":8.59,"v":25.3},{"t":8.75,"v":25},{"t":8.92,"v":24.7},{"t":9.1,"v":24.5},{"t":9.25,"v":24.7},{"t":9.4,"v":25},{"t":9.58,"v":25.3},{"t":9.75,"v":25.5},{"t":9.91,"v":25.8},{"t":10.05,"v":25.2},{"t":10.24,"v":25.8},{"t":10.4,"v":26},{"t":10.57,"v":26.4},{"t":10.75,"v":25.5},{"t":10.90,"v":25.3},{"t":11.05,"v":26.2},{"t":11.23,"v":25.8},{"t":11.4,"v":25.8},{"t":11.56,"v":26.4},{"t":11.7,"v":27},{"t":11.89,"v":27.5},{"t":12.05,"v":27.3},{"t":12.22,"v":28.0},{"t":12.4,"v":28.5},{"t":12.56,"v":28.6},{"t":12.65,"v":29},{"t":12.78,"v":29.7},{"t":12.95,"v":29.5},{"t":13.11,"v":30.2},{"t":13.3,"v":30.5},{"t":13.44,"v":30.8},{"t":13.6,"v":31.5},{"t":13.77,"v":31.3},{"t":13.95,"v":32},{"t":14.10,"v":32.4},{"t":14.25,"v":33},{"t":14.43,"v":34.1},{"t":14.6,"v":34.5},{"t":14.76,"v":35.2},{"t":14.9,"v":36},{"t":15.09,"v":35.2},{"t":15.2,"v":35.5},{"t":15.31,"v":36.8},{"t":15.45,"v":38.5},{"t":15.64,"v":40.1},{"t":15.8,"v":40.5},{"t":15.97,"v":41.8},{"t":16.1,"v":42.5},{"t":16.30,"v":41.2},{"t":16.45,"v":42},{"t":16.63,"v":43.4},{"t":16.8,"v":44},{"t":16.96,"v":44.5},{"t":17.05,"v":45.5},{"t":17.18,"v":46.2},{"t":17.3,"v":43.5},{"t":17.40,"v":44.5},{"t":17.5,"v":47.5},{"t":17.62,"v":46.7},{"t":17.75,"v":48},{"t":17.84,"v":49.5},{"t":17.95,"v":46},{"t":18.06,"v":44.5},{"t":18.17,"v":42.5},{"t":18.28,"v":41.2},{"t":18.4,"v":45},{"t":18.50,"v":47.3},{"t":18.65,"v":49.5},{"t":18.83,"v":51.6},{"t":18.95,"v":50.5},{"t":19.05,"v":48.9},{"t":19.15,"v":47.5},{"t":19.27,"v":53.8},{"t":19.38,"v":52},{"t":19.49,"v":46.2}]},
"mark":{"type":"point","shape":"triangle-up","filled":true,"color":"#1a1a9e","size":45,"opacity":1},"encoding":{"x":{"field":"t","type":"quantitative"},"y":{"field":"v","type":"quantitative"}}},
{"data":{"values":[{"t":0.0,"v":49.1},{"t":0.35,"v":47.8},{"t":0.51,"v":56.8},{"t":0.62,"v":51.1},{"t":0.93,"v":53.3},{"t":1.06,"v":54.6},{"t":1.15,"v":48.0},{"t":1.43,"v":55.5},{"t":1.59,"v":62.6},{"t":1.76,"v":42.3},{"t":1.83,"v":55.5},{"t":2.09,"v":61.0},{"t":2.25,"v":77.7},{"t":2.53,"v":58.2},{"t":2.64,"v":48.4},{"t":2.86,"v":46.2},{"t":3.3,"v":39.8},{"t":3.52,"v":40.7},{"t":3.6,"v":41.3},{"t":3.74,"v":39.2},{"t":3.9,"v":38},{"t":4.07,"v":38.5},{"t":4.2,"v":38.3},{"t":4.30,"v":37.6},{"t":4.45,"v":36.9},{"t":4.63,"v":37.4},{"t":4.8,"v":37.6},{"t":4.96,"v":36.8},{"t":5.15,"v":37.5},{"t":5.40,"v":38.8},{"t":5.55,"v":37.9},{"t":5.73,"v":37.4},{"t":5.9,"v":36.2},{"t":6.06,"v":36.8},{"t":6.2,"v":37.2},{"t":6.39,"v":35.7},{"t":6.55,"v":35.5},{"t":6.72,"v":36.8},{"t":6.9,"v":35.9},{"t":7.05,"v":36.3},{"t":7.2,"v":35.1},{"t":7.38,"v":35.7},{"t":7.55,"v":34.6},{"t":7.71,"v":34.1},{"t":7.9,"v":33.7},{"t":8.04,"v":33.5},{"t":8.2,"v":33.2},{"t":8.37,"v":33.0},{"t":8.55,"v":32},{"t":8.70,"v":32.4},{"t":8.85,"v":31.6},{"t":9.03,"v":30.8},{"t":9.2,"v":30.6},{"t":9.36,"v":31.3},{"t":9.5,"v":30.5},{"t":9.69,"v":29.7},{"t":9.85,"v":29.4},{"t":10.02,"v":30.4},{"t":10.2,"v":29.9},{"t":10.35,"v":30.2},{"t":10.5,"v":29.4},{"t":10.68,"v":29.7},{"t":10.85,"v":28.9},{"t":11.01,"v":28.6},{"t":11.2,"v":28.3},{"t":11.34,"v":28.0},{"t":11.5,"v":27.8},{"t":11.67,"v":27.5},{"t":11.85,"v":27.2},{"t":12.0,"v":27.5},{"t":12.15,"v":27.2},{"t":12.33,"v":27.7},{"t":12.5,"v":27.9},{"t":12.67,"v":27.5},{"t":12.85,"v":26.9},{"t":13.0,"v":26.9},{"t":13.15,"v":27.4},{"t":13.33,"v":26.7},{"t":13.5,"v":27.6},{"t":13.66,"v":28.0},{"t":13.85,"v":27.9},{"t":13.99,"v":27.7},{"t":14.15,"v":28.1},{"t":14.32,"v":28.2},{"t":14.5,"v":27.9},{"t":14.65,"v":28.6},{"t":14.8,"v":28.1},{"t":14.98,"v":27.5},{"t":15.15,"v":26.8},{"t":15.31,"v":26.9},{"t":15.45,"v":27.5},{"t":15.64,"v":28.0},{"t":15.8,"v":29},{"t":15.97,"v":29.7},{"t":16.15,"v":30.2},{"t":16.30,"v":30.8},{"t":16.45,"v":31.5},{"t":16.63,"v":32.4},{"t":16.8,"v":32.8},{"t":16.96,"v":33.5},{"t":17.15,"v":34.6},{"t":17.29,"v":35.2},{"t":17.45,"v":35.2},{"t":17.62,"v":35.7},{"t":17.8,"v":36.5},{"t":17.95,"v":37.0},{"t":18.1,"v":35.2},{"t":18.28,"v":32.4},{"t":18.4,"v":33.8},{"t":18.50,"v":35.7},{"t":18.65,"v":36.6},{"t":18.83,"v":35.9},{"t":18.95,"v":36.2},{"t":19.05,"v":37.0},{"t":19.15,"v":38.5},{"t":19.27,"v":39.6},{"t":19.45,"v":38.2},{"t":19.60,"v":37.4}]},
"mark":{"type":"point","shape":"square","filled":true,"color":"#d62828","stroke":"#6e0000","strokeWidth":1,"size":45,"opacity":1},"encoding":{"x":{"field":"t","type":"quantitative"},"y":{"field":"v","type":"quantitative"}}},
{"data":{"values":[{}]},"mark":{"type":"text","text":"SMC 9-Plot 6","fontWeight":"bold","baseline":"alphabetic","dy":-12},"encoding":{"x":{"datum":10,"type":"quantitative"},"y":{"datum":100,"type":"quantitative"}}},
{"data":{"values":[{}]},"mark":{"type":"text","text":"100","baseline":"alphabetic","dy":4},"encoding":{"x":{"datum":1.3,"type":"quantitative"},"y":{"datum":100,"type":"quantitative"}}},
{"data":{"values":[{}]},"mark":{"type":"text","text":"(10s)","align":"left","baseline":"alphabetic","dy":28},"encoding":{"x":{"datum":10.83,"type":"quantitative"},"y":{"datum":0,"type":"quantitative"}}},
{"data":{"values":[{}]},"mark":{"type":"point","shape":"triangle-up","filled":true,"color":"#1a1a9e","size":30,"opacity":1},"encoding":{"x":{"datum":-0.66,"type":"quantitative"},"y":{"datum":103,"type":"quantitative"}}},
{"data":{"values":[{}]},"mark":{"type":"point","shape":"square","filled":true,"color":"#d62828","stroke":"#6e0000","strokeWidth":1,"size":36,"opacity":1},"encoding":{"x":{"datum":0.59,"type":"quantitative"},"y":{"datum":103.3,"type":"quantitative"}}},
{"data":{"values":[{}]},"mark":{"type":"rule","color":"#2f2fff","strokeWidth":1.5},"encoding":{"x":{"datum":20.66,"type":"quantitative"},"x2":{"datum":21.45},"y":{"datum":101.6,"type":"quantitative"}}}
]},
{"layer":[
{"data":{"name":"spo2"},"mark":{"type":"line","color":"#2f2fff","strokeWidth":1},
"encoding":{"x":{"field":"t","type":"quantitative"},"y":{"field":"s","type":"quantitative","scale":{"domain":[0,100],"nice":false,"zero":false},"axis":{"orient":"right","values":[0,25,50,75,100],"labelExpr":"datum.value % 50 == 0 ? datum.label : ''","title":"SpO2","titleAlign":"left","titleX":6,"titleY":-12}}}}
]}
]},

{"width":303,"height":302,
"layer":[
{"data":{"values":[{}]},"mark":{"type":"point","shape":"M-151 -137L-137 -151M-151 -123L-123 -151M-151 -109L-109 -151M-151 -95L-95 -151M-151 -81L-81 -151M-151 -67L-67 -151M-151 -53L-53 -151M-151 -39L-39 -151M-151 -25L-25 -151M-151 -11L-11 -151M-151 3L3 -151M-151 17L17 -151M-151 31L31 -151M-151 45L45 -151M-151 59L59 -151M-151 73L73 -151M-151 87L87 -151M-151 101L101 -151M-151 115L115 -151M-151 129L129 -151M-151 143L143 -151M-145 151L151 -145M-131 151L151 -131M-117 151L151 -117M-103 151L151 -103M-89 151L151 -89M-75 151L151 -75M-61 151L151 -61M-47 151L151 -47M-33 151L151 -33M-19 151L151 -19M-5 151L151 -5M9 151L151 9M23 151L151 23M37 151L151 37M51 151L151 51M65 151L151 65M79 151L151 79M93 151L151 93M107 151L151 107M121 151L151 121M135 151L151 135M149 151L151 149","size":4,"filled":false,"color":"#4fb04f","strokeWidth":1,"opacity":1},
"encoding":{"x":{"datum":10,"type":"quantitative","scale":{"domain":[0,20],"nice":false,"zero":false},"axis":{"values":[0,5,10,15,20],"labelExpr":"datum.value % 10 == 0 ? datum.label : ''","title":"Zeit","titleAlign":"left","titleX":101,"titleY":28}},
"y":{"datum":100,"type":"quantitative","scale":{"domain":[0,200],"nice":false,"zero":false},"axis":{"values":[0,50,100,150,200],"labelExpr":"datum.value % 100 == 0 ? datum.label : ''","title":"VE","titleAlign":"left","titleX":-16,"titleY":-12}}}},
{"data":{"values":[{"a":2.64,"b":14.1,"c":0,"d":200},{"a":14.45,"b":20,"c":0,"d":200}]},"mark":{"type":"rect","color":"white"},
"encoding":{"x":{"field":"a","type":"quantitative"},"x2":{"field":"b"},"y":{"field":"c","type":"quantitative"},"y2":{"field":"d"}}},
{"data":{"values":[{"a":0,"b":2.64,"c":0,"d":200},{"a":14.1,"b":14.45,"c":0,"d":200}]},"mark":{"type":"rect","filled":false,"color":"black","strokeWidth":1.5},
"encoding":{"x":{"field":"a","type":"quantitative"},"x2":{"field":"b"},"y":{"field":"c","type":"quantitative"},"y2":{"field":"d"}}},
{"data":{"values":[{}]},"mark":{"type":"rule","color":"black","strokeWidth":1.5},"encoding":{"x":{"datum":10.64,"type":"quantitative"}}},
{"data":{"values":[{}]},"mark":{"type":"rule","color":"#2ecc2e","strokeWidth":1.5},"encoding":{"x":{"datum":2.64,"type":"quantitative"},"x2":{"datum":20},"y":{"datum":123.7,"type":"quantitative"}}},
{"data":{"values":[{"t":0.0,"v":15},{"t":0.15,"v":18},{"t":0.3,"v":13},{"t":0.45,"v":17},{"t":0.6,"v":14},{"t":0.75,"v":19},{"t":0.9,"v":12},{"t":1.05,"v":16},{"t":1.2,"v":13},{"t":1.35,"v":18},{"t":1.45,"v":27},{"t":1.55,"v":12},{"t":1.7,"v":20},{"t":1.85,"v":15},{"t":2.0,"v":19},{"t":2.15,"v":13},{"t":2.3,"v":17},{"t":2.45,"v":14},{"t":2.6,"v":12},{"t":2.75,"v":26},{"t":2.9,"v":22},{"t":3.05,"v":25},{"t":3.2,"v":19},{"t":3.35,"v":24},{"t":3.5,"v":21},{"t":3.65,"v":26},{"t":3.8,"v":22},{"t":3.95,"v":24},{"t":4.1,"v":20},{"t":4.25,"v":23},{"t":4.4,"v":25},{"t":4.55,"v":21},{"t":4.7,"v":24},{"t":4.85,"v":22},{"t":5.0,"v":23},{"t":5.15,"v":20},{"t":5.3,"v":24},{"t":5.45,"v":21},{"t":5.6,"v":23},{"t":5.75,"v":22},{"t":5.9,"v":25},{"t":6.05,"v":23},{"t":6.2,"v":26},{"t":6.35,"v":24},{"t":6.5,"v":27},{"t":6.65,"v":25},{"t":6.8,"v":28},{"t":6.95,"v":26},{"t":7.1,"v":31},{"t":7.25,"v":29},{"t":7.4,"v":32},{"t":7.55,"v":30},{"t":7.7,"v":34},{"t":7.85,"v":33},{"t":8.0,"v":36},{"t":8.15,"v":35},{"t":8.3,"v":38},{"t":8.45,"v":37},{"t":8.6,"v":39},{"t":8.75,"v":38},{"t":8.9,"v":42},{"t":9.05,"v":40},{"t":9.2,"v":45},{"t":9.35,"v":43},{"t":9.5,"v":50},{"t":9.65,"v":47},{"t":9.8,"v":51},{"t":9.95,"v":49},{"t":10.1,"v":53},{"t":10.25,"v":51},{"t":10.4,"v":55},{"t":10.55,"v":53},{"t":10.7,"v":58},{"t":10.85,"v":56},{"t":11.0,"v":54},{"t":11.15,"v":60},{"t":11.3,"v":58},{"t":11.45,"v":63},{"t":11.6,"v":62},{"t":11.75,"v":66},{"t":11.9,"v":64},{"t":12.05,"v":69},{"t":12.2,"v":67},{"t":12.35,"v":72},{"t":12.5,"v":70},{"t":12.65,"v":76},{"t":12.8,"v":78},{"t":12.95,"v":84},{"t":13.1,"v":82},{"t":13.25,"v":92},{"t":13.35,"v":86},{"t":13.45,"v":90},{"t":13.55,"v":99},{"t":13.65,"v":106},{"t":13.8,"v":109},{"t":13.95,"v":107},{"t":14.1,"v":112},{"t":14.25,"v":118},{"t":14.4,"v":121},{"t":14.55,"v":119},{"t":14.7,"v":125},{"t":14.85,"v":123},{"t":15.0,"v":117},{"t":15.15,"v":110},{"t":15.3,"v":106},{"t":15.45,"v":100},{"t":15.6,"v":98},{"t":15.7,"v":88},{"t":15.8,"v":95},{"t":15.9,"v":90},{"t":16.0,"v":97},{"t":16.1,"v":85},{"t":16.2,"v":94},{"t":16.3,"v":78},{"t":16.4,"v":70},{"t":16.5,"v":92},{"t":16.6,"v":86},{"t":16.7,"v":80},{"t":16.8,"v":90},{"t":16.9,"v":76},{"t":17.0,"v":84},{"t":17.1,"v":82},{"t":17.2,"v":89},{"t":17.3,"v":78},{"t":17.4,"v":86},{"t":17.5,"v":76},{"t":17.6,"v":88},{"t":17.7,"v":80},{"t":17.8,"v":74},{"t":17.9,"v":86},{"t":18.0,"v":80},{"t":18.1,"v":70},{"t":18.2,"v":73},{"t":18.3,"v":58},{"t":18.4,"v":56},{"t":18.5,"v":54},{"t":18.6,"v":60},{"t":18.7,"v":52},{"t":18.8,"v":57},{"t":18.9,"v":55},{"t":19.0,"v":50},{"t":19.1,"v":48},{"t":19.2,"v":46},{"t":19.3,"v":43},{"t":19.4,"v":40},{"t":19.5,"v":37},{"t":19.6,"v":42},{"t":19.7,"v":50}]},
"mark":{"type":"line","color":"#7a7a7a","strokeWidth":1.3},"encoding":{"x":{"field":"t","type":"quantitative"},"y":{"field":"v","type":"quantitative"}}},
{"data":{"values":[{}]},"mark":{"type":"text","text":"SMC 9-Plot 1","baseline":"alphabetic","dy":-12},"encoding":{"x":{"datum":10,"type":"quantitative"},"y":{"datum":200,"type":"quantitative"}}},
{"data":{"values":[{}]},"mark":{"type":"text","text":"(SMTH)","align":"left","baseline":"alphabetic","dy":28},"encoding":{"x":{"datum":9.6,"type":"quantitative"},"y":{"datum":0,"type":"quantitative"}}}
]},

{"width":303,"height":302,
"layer":[
{"data":{"values":[{}]},"mark":{"type":"rule","color":"black","strokeWidth":1.5},
"encoding":{"x":{"datum":3.81,"type":"quantitative","scale":{"domain":[0,6],"nice":false,"zero":false},"axis":{"values":[0,1,2,3,4,5,6],"format":".1f","labelExpr":"datum.value % 3 == 0 ? datum.label : ''","title":"VCO2","titleAlign":"left","titleX":104,"titleY":28}}}},
{"data":{"values":[{"x":0.14,"y":6.6},{"x":0.18,"y":11.0},{"x":0.21,"y":15.4},{"x":0.28,"y":17.6},{"x":0.32,"y":18.7},{"x":0.38,"y":16.5},{"x":0.44,"y":18.7},{"x":0.47,"y":19.8},{"x":0.54,"y":31.9},{"x":0.56,"y":25.3},{"x":0.61,"y":23.1},{"x":0.64,"y":24.2},{"x":0.70,"y":26.4},{"x":0.77,"y":27.5},{"x":0.84,"y":29.7},{"x":0.87,"y":30.8},{"x":1.03,"y":36.3},{"x":1.10,"y":37.4},{"x":1.16,"y":39.6},{"x":1.30,"y":41.8},{"x":1.33,"y":42.9},{"x":1.59,"y":51.6},{"x":1.66,"y":49.5},{"x":1.72,"y":53.8},{"x":1.79,"y":54.9},{"x":1.89,"y":58.2},{"x":1.99,"y":59.3},{"x":2.02,"y":57.1},{"x":2.15,"y":61.5},{"x":2.22,"y":62.6},{"x":2.32,"y":68.1},{"x":2.35,"y":67.0},{"x":2.68,"y":75.8},{"x":2.74,"y":76.9},{"x":2.81,"y":78.0},{"x":2.91,"y":80.2},{"x":3.01,"y":83.5},{"x":3.04,"y":87.9},{"x":3.30,"y":93.4},{"x":3.37,"y":92.3},{"x":3.43,"y":95.6},{"x":3.53,"y":95.6},{"x":3.78,"y":107.7},{"x":3.89,"y":109.2},{"x":4.07,"y":113.6},{"x":4.11,"y":117.6},{"x":4.14,"y":120.2},{"x":4.19,"y":122.0},{"x":4.26,"y":127.5}]},
"mark":{"type":"point","shape":"square","filled":true,"color":"#7a7a7a","stroke":"#111111","strokeWidth":1.5,"size":36,"opacity":1},
"encoding":{"x":{"field":"x","type":"quantitative"},"y":{"field":"y","type":"quantitative","scale":{"domain":[0,200],"nice":false,"zero":false},"axis":{"values":[0,50,100,150,200],"labelExpr":"datum.value % 100 == 0 ? datum.label : ''","title":"VE","titleAlign":"left","titleX":-13,"titleY":-12}}}},
{"data":{"values":[{}]},"mark":{"type":"text","text":"SMC 9-Plot 4","baseline":"alphabetic","dy":-12},"encoding":{"x":{"datum":3,"type":"quantitative"},"y":{"datum":200,"type":"quantitative"}}},
{"data":{"values":[{}]},"mark":{"type":"text","text":"(10s)","align":"left","baseline":"alphabetic","dy":28},"encoding":{"x":{"datum":3.34,"type":"quantitative"},"y":{"datum":0,"type":"quantitative"}}},
{"data":{"values":[{}]},"mark":{"type":"point","shape":"square","filled":true,"color":"#7a7a7a","stroke":"#111111","strokeWidth":1.5,"size":30,"opacity":1},"encoding":{"x":{"datum":-0.18,"type":"quantitative"},"y":{"datum":206.6,"type":"quantitative"}}}
]},

{"width":303,"height":302,"resolve":{"scale":{"y":"independent"}},
"layer":[
{"layer":[
{"data":{"values":[{}]},"mark":{"type":"point","shape":"M-151 -137L-137 -151M-151 -123L-123 -151M-151 -109L-109 -151M-151 -95L-95 -151M-151 -81L-81 -151M-151 -67L-67 -151M-151 -53L-53 -151M-151 -39L-39 -151M-151 -25L-25 -151M-151 -11L-11 -151M-151 3L3 -151M-151 17L17 -151M-151 31L31 -151M-151 45L45 -151M-151 59L59 -151M-151 73L73 -151M-151 87L87 -151M-151 101L101 -151M-151 115L115 -151M-151 129L129 -151M-151 143L143 -151M-145 151L151 -145M-131 151L151 -131M-117 151L151 -117M-103 151L151 -103M-89 151L151 -89M-75 151L151 -75M-61 151L151 -61M-47 151L151 -47M-33 151L151 -33M-19 151L151 -19M-5 151L151 -5M9 151L151 9M23 151L151 23M37 151L151 37M51 151L151 51M65 151L151 65M79 151L151 79M93 151L151 93M107 151L151 107M121 151L151 121M135 151L151 135M149 151L151 149","size":4,"filled":false,"color":"#4fb04f","strokeWidth":1,"opacity":1},
"encoding":{"x":{"datum":10,"type":"quantitative","scale":{"domain":[0,20],"nice":false,"zero":false},"axis":{"values":[0,5,10,15,20],"labelExpr":"datum.value % 10 == 0 ? datum.label : ''","title":"Zeit","titleAlign":"left","titleX":111,"titleY":28}},
"y":{"datum":50,"type":"quantitative","scale":{"domain":[0,100],"nice":false,"zero":false},"axis":{"values":[0,10,20,30,40,50,60,70,80,90,100],"labelExpr":"datum.value % 20 == 0 ? datum.label : ''","title":"PetCO2\u00a0\u00a0PetO2","titleAlign":"left","titleX":-61,"titleY":-13}}}},
{"data":{"values":[{"a":2.68,"b":14.15,"c":0,"d":35.2},{"a":2.68,"b":14.15,"c":40.2,"d":100},{"a":14.6,"b":20,"c":0,"d":35.2},{"a":14.6,"b":20,"c":40.2,"d":100}]},"mark":{"type":"rect","color":"white"},
"encoding":{"x":{"field":"a","type":"quantitative"},"x2":{"field":"b"},"y":{"field":"c","type":"quantitative"},"y2":{"field":"d"}}},
{"data":{"values":[{"a":0,"b":2.68,"c":0,"d":100},{"a":14.15,"b":14.6,"c":0,"d":100},{"a":2.68,"b":14.15,"c":35.2,"d":40.2},{"a":14.6,"b":20,"c":35.2,"d":40.2}]},"mark":{"type":"rect","filled":false,"color":"black","strokeWidth":1.5},
"encoding":{"x":{"field":"a","type":"quantitative"},"x2":{"field":"b"},"y":{"field":"c","type":"quantitative"},"y2":{"field":"d"}}},
{"data":{"values":[{}]},"mark":{"type":"rule","color":"black","strokeWidth":1.5},"encoding":{"x":{"datum":10.73,"type":"quantitative"}}},
{"data":{"values":[{"t":0.11,"v":33.3},{"t":0.33,"v":32.7},{"t":0.55,"v":33.8},{"t":0.77,"v":31.6},{"t":0.99,"v":33.3},{"t":1.21,"v":25.6},{"t":1.43,"v":26.7},{"t":1.54,"v":35.5},{"t":1.76,"v":31.1},{"t":1.98,"v":30.0},{"t":2.20,"v":30.5},{"t":2.42,"v":28.9},{"t":2.64,"v":29.4},{"t":2.86,"v":34.4},{"t":3.02,"v":35.5},{"t":3.19,"v":35.0},{"t":3.35,"v":36.8},{"t":3.52,"v":36.1},{"t":3.7,"v":35.2},{"t":3.85,"v":36.6},{"t":4.0,"v":37.2},{"t":4.19,"v":36.1},{"t":4.35,"v":35.4},{"t":4.52,"v":36.6},{"t":4.7,"v":37.5},{"t":4.85,"v":36.8},{"t":5.0,"v":35.8},{"t":5.18,"v":36.4},{"t":5.35,"v":35.0},{"t":5.51,"v":35.5},{"t":5.68,"v":34.2},{"t":5.84,"v":34.4},{"t":6.0,"v":35.6},{"t":6.17,"v":35.0},{"t":6.33,"v":36.0},{"t":6.50,"v":35.5},{"t":6.67,"v":36.5},{"t":6.83,"v":36.1},{"t":7.0,"v":35.7},{"t":7.16,"v":36.6},{"t":7.33,"v":37.3},{"t":7.49,"v":36.8},{"t":7.65,"v":37.6},{"t":7.82,"v":37.2},{"t":8.0,"v":38.2},{"t":8.15,"v":37.7},{"t":8.3,"v":38.8},{"t":8.48,"v":38.3},{"t":8.65,"v":37.6},{"t":8.81,"v":38.6},{"t":8.97,"v":39.4},{"t":9.14,"v":38.8},{"t":9.3,"v":37.8},{"t":9.47,"v":39.0},{"t":9.63,"v":39.8},{"t":9.80,"v":39.4},{"t":9.97,"v":40.2},{"t":10.13,"v":39.7},{"t":10.3,"v":40.6},{"t":10.46,"v":39.9},{"t":10.62,"v":41.0},{"t":10.79,"v":40.5},{"t":10.95,"v":41.3},{"t":11.12,"v":41.6},{"t":11.28,"v":42.5},{"t":11.45,"v":42.1},{"t":11.62,"v":41.5},{"t":11.78,"v":42.3},{"t":11.95,"v":42.9},{"t":12.11,"v":42.1},{"t":12.28,"v":41.4},{"t":12.44,"v":41.9},{"t":12.6,"v":42.8},{"t":12.78,"v":42.1},{"t":12.95,"v":41.6},{"t":13.11,"v":42.6},{"t":13.28,"v":43.2},{"t":13.44,"v":42.1},{"t":13.6,"v":41.2},{"t":13.77,"v":41.6},{"t":13.93,"v":40.7},{"t":14.10,"v":41.0},{"t":14.27,"v":40.0},{"t":14.43,"v":40.5},{"t":14.6,"v":39.6},{"t":14.76,"v":39.4},{"t":14.92,"v":40.6},{"t":15.09,"v":41.6},{"t":15.2,"v":42.6},{"t":15.31,"v":42.1},{"t":15.42,"v":42.8},{"t":15.53,"v":41.6},{"t":15.64,"v":40.5},{"t":15.75,"v":39.4},{"t":15.86,"v":38.2},{"t":15.97,"v":37.7},{"t":16.13,"v":38.8},{"t":16.30,"v":38.3},{"t":16.46,"v":37.2},{"t":16.63,"v":36.6},{"t":16.8,"v":35.4},{"t":16.96,"v":34.4},{"t":17.12,"v":33.6},{"t":17.29,"v":32.7},{"t":17.45,"v":34.0},{"t":17.62,"v":33.3},{"t":17.78,"v":32.3},{"t":17.95,"v":33.8},{"t":18.1,"v":34.6},{"t":18.28,"v":33.3},{"t":18.45,"v":32.4},{"t":18.61,"v":34.2},{"t":18.78,"v":33.5},{"t":18.94,"v":32.7},{"t":19.1,"v":33.6},{"t":19.27,"v":31.6},{"t":19.49,"v":35.0}]},
"mark":{"type":"point","shape":"triangle-up","filled":true,"color":"#3a3a3a","size":40,"opacity":1},"encoding":{"x":{"field":"t","type":"quantitative"},"y":{"field":"v","type":"quantitative"}}},
{"data":{"values":[{}]},"mark":{"type":"text","text":"SMC 9-Plot 9","fontWeight":"bold","baseline":"alphabetic","dy":-12},"encoding":{"x":{"datum":10,"type":"quantitative"},"y":{"datum":100,"type":"quantitative"}}},
{"data":{"values":[{}]},"mark":{"type":"text","text":"140","baseline":"alphabetic","dy":4},"encoding":{"x":{"datum":1.3,"type":"quantitative"},"y":{"datum":100,"type":"quantitative"}}},
{"data":{"values":[{}]},"mark":{"type":"text","text":"(10s)","align":"left","baseline":"alphabetic","dy":28},"encoding":{"x":{"datum":10.83,"type":"quantitative"},"y":{"datum":0,"type":"quantitative"}}},
{"data":{"values":[{}]},"mark":{"type":"point","shape":"triangle-up","filled":true,"color":"#3a3a3a","size":30,"opacity":1},"encoding":{"x":{"datum":-0.53,"type":"quantitative"},"y":{"datum":103.3,"type":"quantitative"}}},
{"data":{"values":[{}]},"mark":{"type":"point","shape":"triangle-down","filled":true,"color":"#a81c1c","size":30,"opacity":1},"encoding":{"x":{"datum":0.59,"type":"quantitative"},"y":{"datum":102,"type":"quantitative"}}},
{"data":{"values":[{}]},"mark":{"type":"rule","color":"#2f2fff","strokeWidth":1.5},"encoding":{"x":{"datum":20.66,"type":"quantitative"},"x2":{"datum":21.45},"y":{"datum":102,"type":"quantitative"}}}
]},
{"layer":[
{"data":{"values":[{"t":0.11,"p":101.4},{"t":0.33,"p":104.5},{"t":0.55,"p":103.7},{"t":0.77,"p":99.8},{"t":0.99,"p":100.6},{"t":1.32,"p":107.6},{"t":1.54,"p":96.0},{"t":1.76,"p":109.9},{"t":1.98,"p":106.8},{"t":2.20,"p":108.4},{"t":2.53,"p":108.4},{"t":2.75,"p":107.6},{"t":2.86,"p":100.6},{"t":3.02,"p":101.5},{"t":3.19,"p":99.8},{"t":3.3,"p":101.0},{"t":3.41,"p":102.9},{"t":3.57,"p":100.2},{"t":3.74,"p":99.1},{"t":3.9,"p":100.4},{"t":4.07,"p":99.8},{"t":4.24,"p":101.2},{"t":4.41,"p":98.3},{"t":4.52,"p":99.5},{"t":4.63,"p":100.6},{"t":4.8,"p":98.7},{"t":4.96,"p":99.1},{"t":5.12,"p":100.8},{"t":5.29,"p":97.6},{"t":5.45,"p":99.0},{"t":5.62,"p":99.8},{"t":5.78,"p":101.0},{"t":5.95,"p":102.2},{"t":6.12,"p":100.4},{"t":6.28,"p":99.8},{"t":6.45,"p":101.5},{"t":6.61,"p":100.6},{"t":6.78,"p":99.2},{"t":6.94,"p":98.3},{"t":7.1,"p":97.5},{"t":7.27,"p":96.8},{"t":7.43,"p":97.9},{"t":7.60,"p":97.6},{"t":7.76,"p":96.2},{"t":7.93,"p":96.8},{"t":8.04,"p":95.4},{"t":8.15,"p":94.5},{"t":8.26,"p":95.8},{"t":8.37,"p":95.2},{"t":8.53,"p":94.2},{"t":8.70,"p":93.7},{"t":8.86,"p":94.6},{"t":9.03,"p":92.9},{"t":9.2,"p":93.8},{"t":9.36,"p":94.5},{"t":9.47,"p":95.5},{"t":9.58,"p":96.8},{"t":9.75,"p":94.0},{"t":9.91,"p":94.5},{"t":10.08,"p":93.5},{"t":10.24,"p":95.2},{"t":10.4,"p":94.4},{"t":10.57,"p":96.0},{"t":10.68,"p":94.8},{"t":10.79,"p":93.7},{"t":10.95,"p":94.3},{"t":11.12,"p":92.9},{"t":11.28,"p":93.6},{"t":11.45,"p":94.5},{"t":11.6,"p":95.4},{"t":11.78,"p":96.0},{"t":11.95,"p":96.6},{"t":12.11,"p":97.6},{"t":12.28,"p":98.0},{"t":12.44,"p":99.1},{"t":12.6,"p":97.9},{"t":12.78,"p":98.3},{"t":12.95,"p":99.4},{"t":13.11,"p":99.8},{"t":13.28,"p":100.6},{"t":13.44,"p":101.4},{"t":13.6,"p":100.8},{"t":13.77,"p":102.2},{"t":13.93,"p":103.0},{"t":14.10,"p":103.7},{"t":14.32,"p":104.5},{"t":14.48,"p":103.6},{"t":14.65,"p":105.3},{"t":14.82,"p":104.8},{"t":14.98,"p":104.5},{"t":15.15,"p":105.6},{"t":15.31,"p":106.8},{"t":15.48,"p":106.0},{"t":15.64,"p":107.6},{"t":15.8,"p":108.2},{"t":15.97,"p":109.1},{"t":16.13,"p":108.0},{"t":16.30,"p":109.1},{"t":16.46,"p":110.0},{"t":16.63,"p":110.7},{"t":16.8,"p":109.8},{"t":16.96,"p":111.4},{"t":17.12,"p":112.0},{"t":17.29,"p":110.7},{"t":17.45,"p":111.5},{"t":17.62,"p":112.3},{"t":17.78,"p":110.6},{"t":17.95,"p":111.4},{"t":18.1,"p":110.5},{"t":18.28,"p":109.9},{"t":18.45,"p":111.2},{"t":18.61,"p":112.3},{"t":18.78,"p":111.8},{"t":18.94,"p":113.0},{"t":19.1,"p":112.0},{"t":19.27,"p":112.3},{"t":19.49,"p":109.1}]},
"mark":{"type":"point","shape":"triangle-down","filled":true,"color":"#a81c1c","size":45,"opacity":1},
"encoding":{"x":{"field":"t","type":"quantitative"},"y":{"field":"p","type":"quantitative","scale":{"domain":[0,140],"nice":false,"zero":false},"axis":null}}}
]},
{"layer":[
{"data":{"name":"spo2"},"mark":{"type":"line","color":"#2f2fff","strokeWidth":1},
"encoding":{"x":{"field":"t","type":"quantitative"},"y":{"field":"s","type":"quantitative","scale":{"domain":[0,100],"nice":false,"zero":false},"axis":{"orient":"right","values":[0,25,50,75,100],"labelExpr":"datum.value % 50 == 0 ? datum.label : ''","title":"SpO2","titleAlign":"left","titleX":6,"titleY":-12}}}}
]}
]},

{"width":303,"height":302,"resolve":{"scale":{"y":"independent"}},
"layer":[
{"layer":[
{"data":{"values":[{}]},"mark":{"type":"point","shape":"M-151 -137L-137 -151M-151 -123L-123 -151M-151 -109L-109 -151M-151 -95L-95 -151M-151 -81L-81 -151M-151 -67L-67 -151M-151 -53L-53 -151M-151 -39L-39 -151M-151 -25L-25 -151M-151 -11L-11 -151M-151 3L3 -151M-151 17L17 -151M-151 31L31 -151M-151 45L45 -151M-151 59L59 -151M-151 73L73 -151M-151 87L87 -151M-151 101L101 -151M-151 115L115 -151M-151 129L129 -151M-151 143L143 -151M-145 151L151 -145M-131 151L151 -131M-117 151L151 -117M-103 151L151 -103M-89 151L151 -89M-75 151L151 -75M-61 151L151 -61M-47 151L151 -47M-33 151L151 -33M-19 151L151 -19M-5 151L151 -5M9 151L151 9M23 151L151 23M37 151L151 37M51 151L151 51M65 151L151 65M79 151L151 79M93 151L151 93M107 151L151 107M121 151L151 121M135 151L151 135M149 151L151 149","size":4,"filled":false,"color":"#4fb04f","strokeWidth":1,"opacity":1},
"encoding":{"x":{"datum":10,"type":"quantitative","scale":{"domain":[0,20],"nice":false,"zero":false},"axis":{"values":[0,5,10,15,20],"labelExpr":"datum.value % 10 == 0 ? datum.label : ''","title":"Zeit","titleAlign":"left","titleX":111,"titleY":28}},
"y":{"datum":1,"type":"quantitative","scale":{"domain":[0,2],"nice":false,"zero":false},"axis":{"values":[0,0.5,1,1.5,2],"format":".2f","labelExpr":"datum.value % 1 == 0 ? datum.label : ''","title":"RQ","titleAlign":"left","titleX":-28,"titleY":-12}}}},
{"data":{"values":[{"a":2.64,"b":14.1,"c":0,"d":1.0},{"a":2.64,"b":14.1,"c":1.41,"d":2},{"a":14.45,"b":20,"c":0,"d":1.0},{"a":14.45,"b":20,"c":1.41,"d":2}]},"mark":{"type":"rect","color":"white"},
"encoding":{"x":{"field":"a","type":"quantitative"},"x2":{"field":"b"},"y":{"field":"c","type":"quantitative"},"y2":{"field":"d"}}},
{"data":{"values":[{"a":0,"b":2.64,"c":0,"d":2},{"a":14.1,"b":14.45,"c":0,"d":2},{"a":2.64,"b":14.1,"c":1.0,"d":1.41},{"a":14.45,"b":20,"c":1.0,"d":1.41}]},"mark":{"type":"rect","filled":false,"color":"black","strokeWidth":1.5},
"encoding":{"x":{"field":"a","type":"quantitative"},"x2":{"field":"b"},"y":{"field":"c","type":"quantitative"},"y2":{"field":"d"}}},
{"data":{"values":[{}]},"mark":{"type":"rule","color":"black","strokeWidth":1.5},"encoding":{"x":{"datum":10.64,"type":"quantitative"}}},
{"data":{"values":[{}]},"mark":{"type":"text","text":"SMC 9-Plot 8","fontWeight":"bold","baseline":"alphabetic","dy":-12},"encoding":{"x":{"datum":10,"type":"quantitative"},"y":{"datum":2,"type":"quantitative"}}},
{"data":{"values":[{}]},"mark":{"type":"text","text":"(10s)","align":"left","baseline":"alphabetic","dy":28},"encoding":{"x":{"datum":10.85,"type":"quantitative"},"y":{"datum":0,"type":"quantitative"}}},
{"data":{"values":[{}]},"mark":{"type":"point","shape":"diamond","filled":true,"color":"#10108c","size":30,"opacity":1},"encoding":{"x":{"datum":-0.66,"type":"quantitative"},"y":{"datum":2.066,"type":"quantitative"}}},
{"data":{"values":[{}]},"mark":{"type":"rule","color":"#808080","strokeWidth":1.5},"encoding":{"x":{"datum":20.33,"type":"quantitative"},"x2":{"datum":21.1},"y":{"datum":2.04,"type":"quantitative"}}}
]},
{"layer":[
{"data":{"values":[{"t":0.0,"v":0.378},{"t":0.13,"v":0.392},{"t":0.29,"v":0.352},{"t":0.44,"v":0.411},{"t":0.62,"v":0.365},{"t":0.84,"v":0.425},{"t":0.99,"v":0.332},{"t":1.17,"v":0.147},{"t":1.28,"v":0.067},{"t":1.39,"v":0.279},{"t":1.50,"v":0.501},{"t":1.67,"v":0.306},{"t":1.83,"v":0.226},{"t":2.05,"v":0.332},{"t":2.27,"v":0.279},{"t":2.49,"v":0.458},{"t":2.64,"v":0.359},{"t":2.82,"v":0.332},{"t":3.04,"v":0.226},{"t":3.26,"v":0.253},{"t":3.48,"v":0.306},{"t":3.70,"v":0.279},{"t":3.92,"v":0.266},{"t":4.14,"v":0.286},{"t":4.36,"v":0.266},{"t":4.58,"v":0.279},{"t":4.80,"v":0.273},{"t":5.02,"v":0.266},{"t":5.24,"v":0.253},{"t":5.46,"v":0.263},{"t":5.68,"v":0.246},{"t":5.90,"v":0.233},{"t":6.12,"v":0.239},{"t":6.34,"v":0.213},{"t":6.56,"v":0.226},{"t":6.78,"v":0.213},{"t":7.00,"v":0.220},{"t":7.22,"v":0.200},{"t":7.44,"v":0.213},{"t":7.67,"v":0.187},{"t":7.89,"v":0.200},{"t":8.11,"v":0.173},{"t":8.33,"v":0.200},{"t":8.55,"v":0.213},{"t":8.77,"v":0.187},{"t":8.99,"v":0.173},{"t":9.21,"v":0.180},{"t":9.43,"v":0.160},{"t":9.65,"v":0.167},{"t":9.87,"v":0.167},{"t":10.09,"v":0.173},{"t":10.31,"v":0.160},{"t":10.53,"v":0.153},{"t":10.75,"v":0.147},{"t":10.97,"v":0.153},{"t":11.19,"v":0.134},{"t":11.41,"v":0.134},{"t":11.63,"v":0.173},{"t":11.85,"v":0.147},{"t":12.07,"v":0.127},{"t":12.29,"v":0.120},{"t":12.51,"v":0.127},{"t":12.73,"v":0.114},{"t":12.95,"v":0.107},{"t":13.17,"v":0.107},{"t":13.39,"v":0.110},{"t":13.61,"v":0.107},{"t":13.83,"v":0.114},{"t":14.05,"v":0.110},{"t":14.27,"v":0.117},{"t":14.49,"v":0.107},{"t":14.71,"v":0.101},{"t":14.93,"v":0.107},{"t":15.15,"v":0.114},{"t":15.37,"v":0.101},{"t":15.59,"v":0.110},{"t":15.81,"v":0.120},{"t":16.04,"v":0.117},{"t":16.26,"v":0.127},{"t":16.48,"v":0.120},{"t":16.70,"v":0.114},{"t":16.92,"v":0.120},{"t":17.14,"v":0.114},{"t":17.36,"v":0.134},{"t":17.58,"v":0.147},{"t":17.80,"v":0.134},{"t":18.02,"v":0.153},{"t":18.13,"v":0.107},{"t":18.24,"v":0.167},{"t":18.46,"v":0.180},{"t":18.68,"v":0.173},{"t":18.90,"v":0.180},{"t":19.12,"v":0.173},{"t":19.23,"v":0.246},{"t":19.34,"v":0.213},{"t":19.45,"v":0.206}]},
"mark":{"type":"line","color":"#808080","strokeWidth":1.2},
"encoding":{"x":{"field":"t","type":"quantitative"},"y":{"field":"v","type":"quantitative","scale":{"domain":[0,0.6],"nice":false,"zero":false},"axis":{"orient":"right","values":[0,0.1,0.2,0.3,0.4,0.5,0.6],"format":".1f","labelExpr":"round(datum.value*10) % 2 == 0 ? datum.label : ''","title":"VD/Vt","titleAlign":"left","titleX":5,"titleY":-12}}}}
]},
{"layer":[
{"data":{"values":[{"t":0.0,"r":0.86},{"t":0.18,"r":0.89},{"t":0.40,"r":0.93},{"t":0.57,"r":0.84},{"t":0.73,"r":0.90},{"t":1.06,"r":0.86},{"t":1.28,"r":1.02},{"t":1.45,"r":0.83},{"t":1.61,"r":0.79},{"t":1.76,"r":0.81},{"t":2.05,"r":0.84},{"t":2.16,"r":0.97},{"t":2.38,"r":0.99},{"t":2.49,"r":0.91},{"t":2.64,"r":0.84},{"t":2.93,"r":0.80},{"t":3.04,"r":0.84},{"t":3.2,"r":0.87},{"t":3.37,"r":0.90},{"t":3.5,"r":0.93},{"t":3.59,"r":1.02},{"t":3.81,"r":0.89},{"t":3.95,"r":0.88},{"t":4.14,"r":0.88},{"t":4.3,"r":0.89},{"t":4.47,"r":0.90},{"t":4.6,"r":0.87},{"t":4.69,"r":0.85},{"t":4.8,"r":0.91},{"t":4.91,"r":0.89},{"t":5.0,"r":0.87},{"t":5.13,"r":0.86},{"t":5.3,"r":0.89},{"t":5.46,"r":0.90},{"t":5.6,"r":0.91},{"t":5.79,"r":1.12},{"t":6.01,"r":0.92},{"t":6.12,"r":0.90},{"t":6.23,"r":0.88},{"t":6.4,"r":0.91},{"t":6.56,"r":0.93},{"t":6.67,"r":0.90},{"t":6.78,"r":0.88},{"t":6.95,"r":0.86},{"t":7.11,"r":0.85},{"t":7.22,"r":0.86},{"t":7.33,"r":1.03},{"t":7.45,"r":0.85},{"t":7.56,"r":0.84},{"t":7.7,"r":0.84},{"t":7.89,"r":0.83},{"t":8.05,"r":0.82},{"t":8.22,"r":0.82},{"t":8.4,"r":0.82},{"t":8.55,"r":0.83},{"t":8.7,"r":0.83},{"t":8.88,"r":0.82},{"t":9.0,"r":0.82},{"t":9.10,"r":0.82},{"t":9.25,"r":0.83},{"t":9.43,"r":0.84},{"t":9.6,"r":0.84},{"t":9.76,"r":0.85},{"t":9.9,"r":0.86},{"t":10.09,"r":0.88},{"t":10.25,"r":0.88},{"t":10.42,"r":0.89},{"t":10.6,"r":0.89},{"t":10.75,"r":0.90},{"t":10.9,"r":0.91},{"t":11.08,"r":0.91},{"t":11.25,"r":0.91},{"t":11.41,"r":0.91},{"t":11.58,"r":0.92},{"t":11.74,"r":0.94},{"t":11.9,"r":0.96},{"t":12.07,"r":0.99},{"t":12.23,"r":1.02},{"t":12.40,"r":1.04},{"t":12.56,"r":1.04},{"t":12.73,"r":1.05},{"t":12.9,"r":1.06},{"t":13.06,"r":1.07},{"t":13.22,"r":1.09},{"t":13.39,"r":1.12},{"t":13.55,"r":1.12},{"t":13.72,"r":1.13},{"t":13.9,"r":1.14},{"t":14.05,"r":1.15},{"t":14.2,"r":1.16},{"t":14.38,"r":1.18},{"t":14.55,"r":1.20},{"t":14.71,"r":1.22},{"t":14.88,"r":1.23},{"t":15.04,"r":1.25},{"t":15.2,"r":1.27},{"t":15.37,"r":1.29},{"t":15.55,"r":1.32},{"t":15.70,"r":1.35},{"t":15.87,"r":1.37},{"t":16.04,"r":1.39},{"t":16.15,"r":1.39},{"t":16.26,"r":1.40},{"t":16.42,"r":1.38},{"t":16.59,"r":1.38},{"t":16.7,"r":1.36},{"t":16.81,"r":1.35},{"t":16.92,"r":1.37},{"t":17.03,"r":1.36},{"t":17.14,"r":1.35},{"t":17.25,"r":1.34},{"t":17.36,"r":1.30},{"t":17.47,"r":1.26},{"t":17.58,"r":1.27},{"t":17.69,"r":1.28},{"t":17.8,"r":1.31},{"t":17.91,"r":1.35},{"t":18.02,"r":1.33},{"t":18.13,"r":1.32},{"t":18.24,"r":1.31},{"t":18.35,"r":1.33},{"t":18.46,"r":1.35},{"t":18.57,"r":1.37},{"t":18.7,"r":1.39},{"t":18.90,"r":1.40},{"t":19.0,"r":1.38},{"t":19.12,"r":1.37},{"t":19.23,"r":1.36},{"t":19.34,"r":1.35},{"t":19.45,"r":1.30},{"t":19.56,"r":1.24}]},
"mark":{"type":"point","shape":"diamond","filled":true,"color":"#10108c","size":30,"opacity":1},
"encoding":{"x":{"field":"t","type":"quantitative"},"y":{"field":"r","type":"quantitative","scale":{"domain":[0,2],"nice":false,"zero":false},"axis":null}}}
]}
]},

{"width":303,"height":302,
"layer":[
{"data":{"values":[{"a":0,"b":0,"c":80.7,"d":4.0},{"a":0,"b":0,"c":80,"d":2.0}]},"mark":{"type":"rule","color":"#2e9a9a","strokeWidth":1.3},
"encoding":{"x":{"field":"a","type":"quantitative","scale":{"domain":[0,200],"nice":false,"zero":false},"axis":{"values":[0,50,100,150,200],"labelExpr":"datum.value % 100 == 0 ? datum.label : ''","title":"VE","titleAlign":"left","titleX":114,"titleY":28}},"y":{"field":"b","type":"quantitative","scale":{"domain":[0,4],"nice":false,"zero":false},"axis":{"values":[0,1,2,3,4],"format":".1f","labelExpr":"datum.value % 2 == 0 ? datum.label : ''","title":"VT","titleAlign":"left","titleX":-12,"titleY":-12}},"x2":{"field":"c"},"y2":{"field":"d"}}},
{"data":{"values":[{"x":0,"y":4.66,"o":1},{"x":123.2,"y":4.66,"o":2},{"x":123.2,"y":0,"o":3}]},"mark":{"type":"line","color":"#2ecc2e","strokeWidth":1.5},
"encoding":{"x":{"field":"x","type":"quantitative"},"y":{"field":"y","type":"quantitative"},"order":{"field":"o","type":"quantitative"}}},
{"data":{"values":[{"x":6.3,"y":0.35},{"x":10.3,"y":0.60},{"x":12.5,"y":0.58},{"x":14.2,"y":1.37},{"x":14.7,"y":0.85},{"x":15.1,"y":0.71},{"x":15.8,"y":0.63},{"x":16.8,"y":0.96},{"x":17.9,"y":1.22},{"x":18.6,"y":0.78},{"x":19.5,"y":0.72},{"x":20.8,"y":0.87},{"x":21.7,"y":1.09},{"x":22.3,"y":0.96},{"x":23.4,"y":0.87},{"x":24.5,"y":1.02},{"x":25.2,"y":1.16},{"x":26.0,"y":1.36},{"x":26.7,"y":1.11},{"x":27.8,"y":1.24},{"x":28.9,"y":1.13},{"x":30.0,"y":1.24},{"x":31.1,"y":0.60},{"x":33.3,"y":1.59},{"x":34.4,"y":1.42},{"x":35.4,"y":1.31},{"x":37.0,"y":1.46},{"x":38.3,"y":1.51},{"x":39.2,"y":1.84},{"x":40.9,"y":1.77},{"x":42.7,"y":1.71},{"x":47.5,"y":2.06},{"x":48.6,"y":1.95},{"x":50.3,"y":1.90},{"x":54.5,"y":1.91},{"x":55.1,"y":2.09},{"x":57.3,"y":2.13},{"x":59.5,"y":2.21},{"x":61.7,"y":2.28},{"x":65.0,"y":2.35},{"x":66.1,"y":2.61},{"x":73.7,"y":2.44},{"x":74.8,"y":2.61},{"x":77.7,"y":2.73},{"x":79.9,"y":2.92},{"x":82.1,"y":2.78},{"x":85.8,"y":2.75},{"x":91.7,"y":2.90},{"x":91.7,"y":3.14},{"x":94.5,"y":3.03},{"x":95.6,"y":3.07},{"x":105.5,"y":2.96},{"x":108.3,"y":3.07},{"x":111.0,"y":3.05},{"x":113.1,"y":3.03},{"x":116.4,"y":2.97},{"x":118.6,"y":2.92},{"x":121.9,"y":3.01},{"x":126.3,"y":2.96}]},
"mark":{"type":"point","shape":"square","filled":true,"color":"#7a7a7a","stroke":"#111111","strokeWidth":1.5,"size":40,"opacity":1},
"encoding":{"x":{"field":"x","type":"quantitative"},"y":{"field":"y","type":"quantitative"}}},
{"data":{"values":[{}]},"mark":{"type":"text","text":"SMC 9-Plot 7","baseline":"alphabetic","dy":-12},"encoding":{"x":{"datum":100,"type":"quantitative"},"y":{"datum":4,"type":"quantitative"}}},
{"data":{"values":[{}]},"mark":{"type":"text","text":"(10s)","align":"left","baseline":"alphabetic","dy":28},"encoding":{"x":{"datum":104,"type":"quantitative"},"y":{"datum":0,"type":"quantitative"}}},
{"data":{"values":[{}]},"mark":{"type":"point","shape":"square","filled":true,"color":"#7a7a7a","stroke":"#111111","strokeWidth":1.5,"size":30,"opacity":1},"encoding":{"x":{"datum":-4.6,"type":"quantitative"},"y":{"datum":4.13,"type":"quantitative"}}}
]}
],
"config":{
"view":{"stroke":null},
"font":"Liberation Sans",
"axis":{"domainColor":"#000000","domainWidth":2,"tickColor":"#000000","tickWidth":1.5,"tickSize":5,"labelFont":"Liberation Sans","labelFontSize":15,"labelColor":"#1a1a1a","labelPadding":1,"labelFlush":false,"labelOverlap":false,"labelBound":false,"grid":false,"titleFont":"Liberation Sans","titleFontSize":15,"titleFontWeight":"normal","titleColor":"#1a1a1a","titleAngle":0,"titleBaseline":"alphabetic","zindex":1},
"text":{"font":"Liberation Sans","fontSize":15,"color":"#1a1a1a"}
}
}
